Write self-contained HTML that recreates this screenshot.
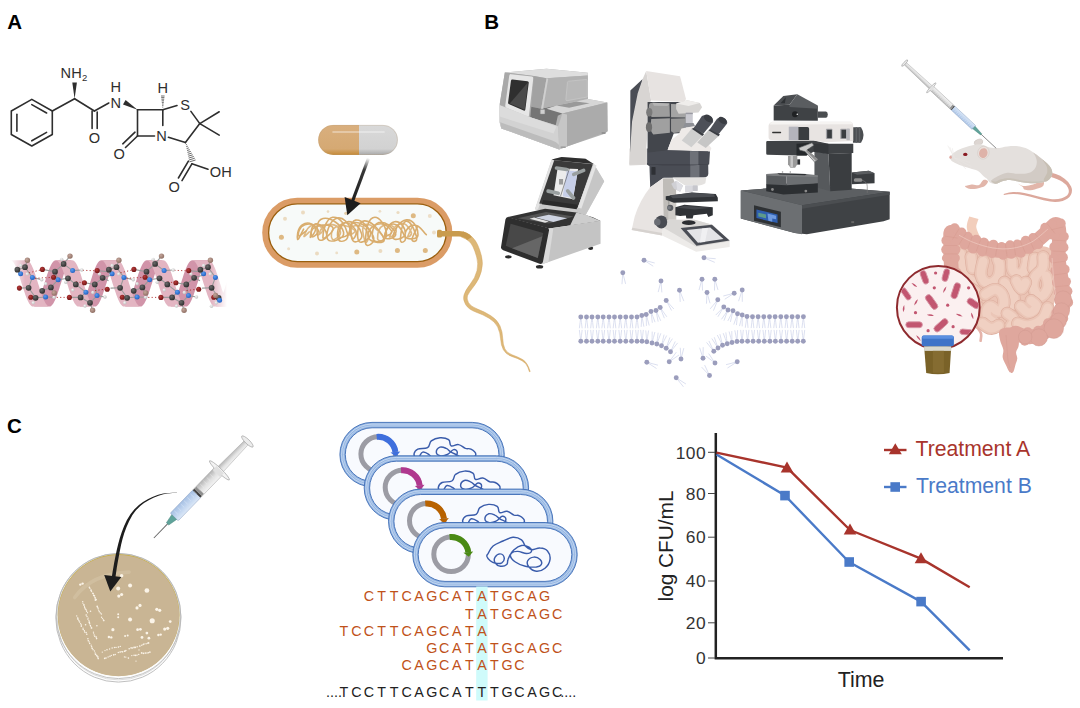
<!DOCTYPE html>
<html><head><meta charset="utf-8"><title>Figure</title>
<style>
html,body{margin:0;padding:0;background:#fff;}
body{width:1080px;height:708px;overflow:hidden;font-family:"Liberation Sans",sans-serif;}
svg{display:block;position:absolute;left:0;top:0;}
text{font-family:"Liberation Sans",sans-serif;}
</style></head><body>
<svg width="1080" height="708" viewBox="0 0 1080 708">
<rect width="1080" height="708" fill="#ffffff"/>
<!-- panel labels -->
<g font-weight="bold" font-size="20.5" fill="#000">
<text x="7.3" y="28.8">A</text>
<text x="484.3" y="29.2">B</text>
<text x="7" y="433.0">C</text>
</g>
<!-- ampicillin -->
<g stroke="#2e2e2e" stroke-width="1.6" fill="none" stroke-linecap="round" stroke-linejoin="round">
<polygon points="31.8,99.4 52.3,111 52.3,134.5 31.8,146 11.3,134.5 11.3,111"/>
<line x1="31.8" y1="104.6" x2="46.6" y2="113"/>
<line x1="16.9" y1="114.2" x2="16.9" y2="131.3"/>
<line x1="31.8" y1="140.8" x2="46.6" y2="132.4"/>
<line x1="52.3" y1="111" x2="74.6" y2="98.7"/>
<line x1="74.6" y1="98.7" x2="94.4" y2="111"/>
<line x1="92.1" y1="111" x2="92.1" y2="128.4"/>
<line x1="97.2" y1="112" x2="97.2" y2="128.4"/>
<line x1="94.4" y1="111" x2="108.8" y2="103"/>
<line x1="137.5" y1="109.8" x2="162.8" y2="109.8"/>
<line x1="137.5" y1="109.8" x2="137.5" y2="136"/>
<line x1="137.5" y1="136" x2="154.5" y2="136"/>
<line x1="162.8" y1="109.8" x2="162.8" y2="125.5"/>
<line x1="137.5" y1="136" x2="125.5" y2="147.5"/>
<line x1="135" y1="132.2" x2="122.8" y2="143.8"/>
<line x1="162.8" y1="109.8" x2="177" y2="105.6"/>
<line x1="190.9" y1="111.4" x2="199.8" y2="123.6"/>
<line x1="199.8" y1="123.6" x2="219.2" y2="111.8"/>
<line x1="199.8" y1="123.6" x2="219.2" y2="135.1"/>
<line x1="199.8" y1="123.6" x2="185.4" y2="142.6"/>
<line x1="168.4" y1="137.2" x2="185.4" y2="142.6"/>
<line x1="191.9" y1="163.8" x2="208" y2="169.2"/>
<line x1="191.9" y1="163.8" x2="182" y2="180.6"/>
<line x1="188.4" y1="161.2" x2="178.4" y2="178"/>
</g>
<g fill="#2e2e2e" stroke="none">
<polygon points="74.6,98.7 72.3,82.6 76.9,82.6"/>
<polygon points="137.5,109.8 123,104.6 125.6,100"/>
</g>
<g stroke="#2e2e2e" stroke-width="0.7" fill="none">
<path d="M161,96 h3.6 M161.2,97.6 h3.2 M161.4,99.2 h2.8 M161.6,100.8 h2.4 M161.8,102.4 h2 M162,104 h1.6 M162.2,105.6 h1.2 M162.4,107.2 h0.8"/>
<path d="M185.9,144.8 l1,-0.3 M186.2,146.7 l1.6,-0.5 M186.6,148.6 l2.2,-0.7 M187,150.5 l2.8,-0.85 M187.4,152.4 l3.4,-1 M187.8,154.3 l4,-1.2 M188.2,156.2 l4.6,-1.4 M188.6,158.1 l5.2,-1.6 M189,160 l5.8,-1.8 M189.4,161.9 l6.2,-1.9"/>
</g>
<g font-size="14.6" fill="#2e2e2e" text-anchor="middle">
<text x="65.7" y="77.8">N</text><text x="76.5" y="77.8">H</text><text x="84.7" y="80.6" font-size="9.5">2</text>
<text x="94.4" y="142.8">O</text>
<text x="115.8" y="107.6">N</text><text x="115.8" y="92.2">H</text>
<text x="162.8" y="92.8">H</text>
<text x="185" y="110.2">S</text>
<text x="161.5" y="141.2">N</text>
<text x="119.2" y="158.7">O</text>
<text x="174.1" y="192">O</text>
<text x="220.8" y="177.2">OH</text>
</g>
<!-- alpha helix -->
<defs>
<linearGradient id="hxFade" x1="10" x2="227" y1="0" y2="0" gradientUnits="userSpaceOnUse"><stop offset="0" stop-color="#fff" stop-opacity="0"/><stop offset="0.07" stop-color="#fff" stop-opacity="1"/><stop offset="0.93" stop-color="#fff" stop-opacity="1"/><stop offset="1" stop-color="#fff" stop-opacity="0"/></linearGradient>
<mask id="hxMask"><rect x="0" y="240" width="260" height="90" fill="url(#hxFade)"/></mask>
<radialGradient id="gC" cx="0.38" cy="0.35" r="0.7"><stop offset="0" stop-color="#6a6a6a"/><stop offset="1" stop-color="#2b2b2b"/></radialGradient>
<radialGradient id="gN" cx="0.38" cy="0.35" r="0.7"><stop offset="0" stop-color="#5b9cf0"/><stop offset="1" stop-color="#1f5fc0"/></radialGradient>
<radialGradient id="gO" cx="0.38" cy="0.35" r="0.7"><stop offset="0" stop-color="#b53a3a"/><stop offset="1" stop-color="#6e1212"/></radialGradient>
<radialGradient id="gH" cx="0.38" cy="0.35" r="0.7"><stop offset="0" stop-color="#f4f4f4"/><stop offset="1" stop-color="#bdbdbd"/></radialGradient>
<radialGradient id="gR" cx="0.38" cy="0.35" r="0.7"><stop offset="0" stop-color="#c3a59a"/><stop offset="1" stop-color="#8d6d62"/></radialGradient>
</defs>
<g mask="url(#hxMask)">
<polygon points="33.0,306.6 33.9,306.4 34.9,305.8 35.8,304.8 36.8,303.5 37.7,301.8 38.7,299.8 39.6,297.5 40.6,295.0 41.5,292.3 42.5,289.4 43.4,286.4 44.4,283.4 45.3,280.4 46.3,277.4 47.2,274.5 48.2,271.8 49.1,269.3 50.1,267.0 51.0,265.0 52.0,263.3 52.9,262.0 53.9,261.0 54.8,260.4 55.8,260.2 72.2,260.2 71.3,260.4 70.4,261.0 69.4,262.0 68.5,263.3 67.5,265.0 66.6,267.0 65.6,269.3 64.7,271.8 63.7,274.5 62.8,277.4 61.8,280.4 60.9,283.4 59.9,286.4 59.0,289.4 58.0,292.3 57.1,295.0 56.1,297.5 55.2,299.8 54.2,301.8 53.3,303.5 52.3,304.8 51.4,305.8 50.4,306.4 49.5,306.6" fill="#D194A9"/>
<polygon points="78.5,306.6 79.4,306.4 80.4,305.8 81.3,304.8 82.3,303.5 83.2,301.8 84.2,299.8 85.1,297.5 86.1,295.0 87.0,292.3 88.0,289.4 88.9,286.4 89.9,283.4 90.8,280.4 91.8,277.4 92.7,274.5 93.7,271.8 94.6,269.3 95.6,267.0 96.5,265.0 97.5,263.3 98.4,262.0 99.4,261.0 100.3,260.4 101.2,260.2 117.8,260.2 116.8,260.4 115.9,261.0 114.9,262.0 114.0,263.3 113.0,265.0 112.1,267.0 111.1,269.3 110.2,271.8 109.2,274.5 108.3,277.4 107.3,280.4 106.4,283.4 105.4,286.4 104.5,289.4 103.5,292.3 102.6,295.0 101.6,297.5 100.7,299.8 99.7,301.8 98.8,303.5 97.8,304.8 96.9,305.8 95.9,306.4 95.0,306.6" fill="#D194A9"/>
<polygon points="124.0,306.6 124.9,306.4 125.9,305.8 126.8,304.8 127.8,303.5 128.7,301.8 129.7,299.8 130.6,297.5 131.6,295.0 132.5,292.3 133.5,289.4 134.4,286.4 135.4,283.4 136.3,280.4 137.3,277.4 138.2,274.5 139.2,271.8 140.1,269.3 141.1,267.0 142.0,265.0 143.0,263.3 143.9,262.0 144.9,261.0 145.8,260.4 146.8,260.2 163.2,260.2 162.3,260.4 161.4,261.0 160.4,262.0 159.5,263.3 158.5,265.0 157.6,267.0 156.6,269.3 155.7,271.8 154.7,274.5 153.8,277.4 152.8,280.4 151.9,283.4 150.9,286.4 150.0,289.4 149.0,292.3 148.1,295.0 147.1,297.5 146.2,299.8 145.2,301.8 144.3,303.5 143.3,304.8 142.4,305.8 141.4,306.4 140.5,306.6" fill="#D194A9"/>
<polygon points="169.5,306.6 170.4,306.4 171.4,305.8 172.3,304.8 173.3,303.5 174.2,301.8 175.2,299.8 176.1,297.5 177.1,295.0 178.0,292.3 179.0,289.4 179.9,286.4 180.9,283.4 181.8,280.4 182.8,277.4 183.7,274.5 184.7,271.8 185.6,269.3 186.6,267.0 187.5,265.0 188.5,263.3 189.4,262.0 190.4,261.0 191.3,260.4 192.2,260.2 208.8,260.2 207.8,260.4 206.9,261.0 205.9,262.0 205.0,263.3 204.0,265.0 203.1,267.0 202.1,269.3 201.2,271.8 200.2,274.5 199.3,277.4 198.3,280.4 197.4,283.4 196.4,286.4 195.5,289.4 194.5,292.3 193.6,295.0 192.6,297.5 191.7,299.8 190.7,301.8 189.8,303.5 188.8,304.8 187.9,305.8 186.9,306.4 186.0,306.6" fill="#D194A9"/>
<polygon points="215.0,306.6 215.9,306.4 216.9,305.8 217.8,304.8 218.8,303.5 219.7,301.8 220.7,299.8 221.6,297.5 222.6,295.0 223.5,292.3 224.5,289.4 225.4,286.4 226.4,283.4 227.3,280.4 228.3,277.4 229.2,274.5 230.2,271.8 231.1,269.3 232.1,267.0 233.0,265.0 234.0,263.3 234.9,262.0 235.9,261.0 236.8,260.4 237.8,260.2 254.2,260.2 253.3,260.4 252.4,261.0 251.4,262.0 250.5,263.3 249.5,265.0 248.6,267.0 247.6,269.3 246.7,271.8 245.7,274.5 244.8,277.4 243.8,280.4 242.9,283.4 241.9,286.4 241.0,289.4 240.0,292.3 239.1,295.0 238.1,297.5 237.2,299.8 236.2,301.8 235.3,303.5 234.3,304.8 233.4,305.8 232.4,306.4 231.5,306.6" fill="#D194A9"/>
<polygon points="260.5,306.6 261.4,306.4 262.4,305.8 263.3,304.8 264.3,303.5 265.2,301.8 266.2,299.8 267.1,297.5 268.1,295.0 269.0,292.3 270.0,289.4 270.9,286.4 271.9,283.4 272.8,280.4 273.8,277.4 274.7,274.5 275.7,271.8 276.6,269.3 277.6,267.0 278.5,265.0 279.5,263.3 280.4,262.0 281.4,261.0 282.3,260.4 283.2,260.2 299.8,260.2 298.8,260.4 297.9,261.0 296.9,262.0 296.0,263.3 295.0,265.0 294.1,267.0 293.1,269.3 292.2,271.8 291.2,274.5 290.3,277.4 289.3,280.4 288.4,283.4 287.4,286.4 286.5,289.4 285.5,292.3 284.6,295.0 283.6,297.5 282.7,299.8 281.7,301.8 280.8,303.5 279.8,304.8 278.9,305.8 277.9,306.4 277.0,306.6" fill="#D194A9"/>
<polygon points="-35.2,260.2 -34.3,260.4 -33.4,261.0 -32.4,262.0 -31.5,263.3 -30.5,265.0 -29.6,267.0 -28.6,269.3 -27.7,271.8 -26.7,274.5 -25.8,277.4 -24.8,280.4 -23.9,283.4 -22.9,286.4 -22.0,289.4 -21.0,292.3 -20.1,295.0 -19.1,297.5 -18.2,299.8 -17.2,301.8 -16.3,303.5 -15.3,304.8 -14.4,305.8 -13.4,306.4 -12.5,306.6 4.0,306.6 3.1,306.4 2.1,305.8 1.2,304.8 0.2,303.5 -0.7,301.8 -1.7,299.8 -2.6,297.5 -3.6,295.0 -4.5,292.3 -5.5,289.4 -6.4,286.4 -7.4,283.4 -8.3,280.4 -9.3,277.4 -10.2,274.5 -11.2,271.8 -12.1,269.3 -13.1,267.0 -14.0,265.0 -15.0,263.3 -15.9,262.0 -16.9,261.0 -17.8,260.4 -18.8,260.2" fill="#E3B5C2"/>
<polygon points="10.2,260.2 11.2,260.4 12.1,261.0 13.1,262.0 14.0,263.3 15.0,265.0 15.9,267.0 16.9,269.3 17.8,271.8 18.8,274.5 19.7,277.4 20.7,280.4 21.6,283.4 22.6,286.4 23.5,289.4 24.5,292.3 25.4,295.0 26.4,297.5 27.3,299.8 28.3,301.8 29.2,303.5 30.2,304.8 31.1,305.8 32.1,306.4 33.0,306.6 49.5,306.6 48.6,306.4 47.6,305.8 46.7,304.8 45.7,303.5 44.8,301.8 43.8,299.8 42.9,297.5 41.9,295.0 41.0,292.3 40.0,289.4 39.1,286.4 38.1,283.4 37.2,280.4 36.2,277.4 35.3,274.5 34.3,271.8 33.4,269.3 32.4,267.0 31.5,265.0 30.5,263.3 29.6,262.0 28.6,261.0 27.7,260.4 26.8,260.2" fill="#E3B5C2"/>
<polygon points="55.8,260.2 56.7,260.4 57.6,261.0 58.6,262.0 59.5,263.3 60.5,265.0 61.4,267.0 62.4,269.3 63.3,271.8 64.3,274.5 65.2,277.4 66.2,280.4 67.1,283.4 68.1,286.4 69.0,289.4 70.0,292.3 70.9,295.0 71.9,297.5 72.8,299.8 73.8,301.8 74.7,303.5 75.7,304.8 76.6,305.8 77.6,306.4 78.5,306.6 95.0,306.6 94.1,306.4 93.1,305.8 92.2,304.8 91.2,303.5 90.3,301.8 89.3,299.8 88.4,297.5 87.4,295.0 86.5,292.3 85.5,289.4 84.6,286.4 83.6,283.4 82.7,280.4 81.7,277.4 80.8,274.5 79.8,271.8 78.9,269.3 77.9,267.0 77.0,265.0 76.0,263.3 75.1,262.0 74.1,261.0 73.2,260.4 72.2,260.2" fill="#E3B5C2"/>
<polygon points="101.2,260.2 102.2,260.4 103.1,261.0 104.1,262.0 105.0,263.3 106.0,265.0 106.9,267.0 107.9,269.3 108.8,271.8 109.8,274.5 110.7,277.4 111.7,280.4 112.6,283.4 113.6,286.4 114.5,289.4 115.5,292.3 116.4,295.0 117.4,297.5 118.3,299.8 119.3,301.8 120.2,303.5 121.2,304.8 122.1,305.8 123.1,306.4 124.0,306.6 140.5,306.6 139.6,306.4 138.6,305.8 137.7,304.8 136.7,303.5 135.8,301.8 134.8,299.8 133.9,297.5 132.9,295.0 132.0,292.3 131.0,289.4 130.1,286.4 129.1,283.4 128.2,280.4 127.2,277.4 126.3,274.5 125.3,271.8 124.4,269.3 123.4,267.0 122.5,265.0 121.5,263.3 120.6,262.0 119.6,261.0 118.7,260.4 117.8,260.2" fill="#E3B5C2"/>
<polygon points="146.8,260.2 147.7,260.4 148.6,261.0 149.6,262.0 150.5,263.3 151.5,265.0 152.4,267.0 153.4,269.3 154.3,271.8 155.3,274.5 156.2,277.4 157.2,280.4 158.1,283.4 159.1,286.4 160.0,289.4 161.0,292.3 161.9,295.0 162.9,297.5 163.8,299.8 164.8,301.8 165.7,303.5 166.7,304.8 167.6,305.8 168.6,306.4 169.5,306.6 186.0,306.6 185.1,306.4 184.1,305.8 183.2,304.8 182.2,303.5 181.3,301.8 180.3,299.8 179.4,297.5 178.4,295.0 177.5,292.3 176.5,289.4 175.6,286.4 174.6,283.4 173.7,280.4 172.7,277.4 171.8,274.5 170.8,271.8 169.9,269.3 168.9,267.0 168.0,265.0 167.0,263.3 166.1,262.0 165.1,261.0 164.2,260.4 163.2,260.2" fill="#E3B5C2"/>
<polygon points="192.2,260.2 193.2,260.4 194.1,261.0 195.1,262.0 196.0,263.3 197.0,265.0 197.9,267.0 198.9,269.3 199.8,271.8 200.8,274.5 201.7,277.4 202.7,280.4 203.6,283.4 204.6,286.4 205.5,289.4 206.5,292.3 207.4,295.0 208.4,297.5 209.3,299.8 210.3,301.8 211.2,303.5 212.2,304.8 213.1,305.8 214.1,306.4 215.0,306.6 231.5,306.6 230.6,306.4 229.6,305.8 228.7,304.8 227.7,303.5 226.8,301.8 225.8,299.8 224.9,297.5 223.9,295.0 223.0,292.3 222.0,289.4 221.1,286.4 220.1,283.4 219.2,280.4 218.2,277.4 217.3,274.5 216.3,271.8 215.4,269.3 214.4,267.0 213.5,265.0 212.5,263.3 211.6,262.0 210.6,261.0 209.7,260.4 208.8,260.2" fill="#E3B5C2"/>
<polygon points="237.8,260.2 238.7,260.4 239.6,261.0 240.6,262.0 241.5,263.3 242.5,265.0 243.4,267.0 244.4,269.3 245.3,271.8 246.3,274.5 247.2,277.4 248.2,280.4 249.1,283.4 250.1,286.4 251.0,289.4 252.0,292.3 252.9,295.0 253.9,297.5 254.8,299.8 255.8,301.8 256.7,303.5 257.7,304.8 258.6,305.8 259.6,306.4 260.5,306.6 277.0,306.6 276.1,306.4 275.1,305.8 274.2,304.8 273.2,303.5 272.3,301.8 271.3,299.8 270.4,297.5 269.4,295.0 268.5,292.3 267.5,289.4 266.6,286.4 265.6,283.4 264.7,280.4 263.7,277.4 262.8,274.5 261.8,271.8 260.9,269.3 259.9,267.0 259.0,265.0 258.0,263.3 257.1,262.0 256.1,261.0 255.2,260.4 254.2,260.2" fill="#E3B5C2"/>
<polygon points="283.2,260.2 284.2,260.4 285.1,261.0 286.1,262.0 287.0,263.3 288.0,265.0 288.9,267.0 289.9,269.3 290.8,271.8 291.8,274.5 292.7,277.4 293.7,280.4 294.6,283.4 295.6,286.4 296.5,289.4 297.5,292.3 298.4,295.0 299.4,297.5 300.3,299.8 301.3,301.8 302.2,303.5 303.2,304.8 304.1,305.8 305.1,306.4 306.0,306.6 322.5,306.6 321.6,306.4 320.6,305.8 319.7,304.8 318.7,303.5 317.8,301.8 316.8,299.8 315.9,297.5 314.9,295.0 314.0,292.3 313.0,289.4 312.1,286.4 311.1,283.4 310.2,280.4 309.2,277.4 308.3,274.5 307.3,271.8 306.4,269.3 305.4,267.0 304.5,265.0 303.5,263.3 302.6,262.0 301.6,261.0 300.7,260.4 299.8,260.2" fill="#E3B5C2"/>
</g>
<g stroke="#9a9a9a" stroke-width="1.1" stroke-linecap="round"><line x1="17.4" y1="269.7" x2="25.0" y2="267.2"/><line x1="25.0" y1="267.2" x2="27.4" y2="260.3"/><line x1="25.0" y1="267.2" x2="32.4" y2="277.4"/><line x1="32.4" y1="277.4" x2="28.6" y2="287.8"/><line x1="28.6" y1="287.8" x2="19.4" y2="288.1"/><line x1="28.6" y1="287.8" x2="35.6" y2="297.8"/><line x1="35.6" y1="297.8" x2="30.8" y2="297.2"/><line x1="35.6" y1="297.8" x2="45.6" y2="297.0"/><line x1="45.6" y1="297.0" x2="42.2" y2="290.8"/><line x1="42.2" y1="290.8" x2="50.9" y2="287.4"/><line x1="50.9" y1="287.4" x2="54.2" y2="293.0"/><line x1="50.9" y1="287.4" x2="58.1" y2="279.7"/><line x1="58.1" y1="279.7" x2="55.0" y2="271.7"/><line x1="55.0" y1="271.7" x2="42.4" y2="269.4"/><line x1="55.0" y1="271.7" x2="63.6" y2="263.9"/><line x1="63.6" y1="263.9" x2="70.0" y2="256.1"/><line x1="63.6" y1="263.9" x2="72.6" y2="270.6"/><line x1="72.6" y1="270.6" x2="81.7" y2="270.0"/><line x1="58.1" y1="279.7" x2="68.0" y2="278.3"/><line x1="68.0" y1="278.3" x2="75.8" y2="284.4"/><line x1="75.8" y1="284.4" x2="85.9" y2="292.2"/><line x1="85.9" y1="292.2" x2="80.6" y2="297.4"/><line x1="80.6" y1="297.4" x2="69.4" y2="297.4"/><line x1="80.6" y1="297.4" x2="90.0" y2="302.8"/><line x1="90.0" y1="302.8" x2="92.6" y2="310.3"/><line x1="90.0" y1="302.8" x2="97.0" y2="295.6"/><line x1="97.0" y1="295.6" x2="105.0" y2="297.0"/><line x1="97.0" y1="295.6" x2="94.8" y2="284.4"/><line x1="94.8" y1="284.4" x2="84.4" y2="282.8"/><line x1="94.8" y1="284.4" x2="102.6" y2="277.8"/><line x1="102.6" y1="277.8" x2="108.1" y2="280.6"/><line x1="102.6" y1="277.8" x2="111.1" y2="275.2"/><line x1="111.1" y1="275.2" x2="108.3" y2="271.7"/><line x1="108.3" y1="271.7" x2="97.2" y2="270.6"/><line x1="32.4" y1="277.4" x2="41.7" y2="279.7"/><line x1="45.6" y1="297.0" x2="54.1" y2="297.2"/><line x1="108.9" y1="269.7" x2="116.5" y2="267.2"/><line x1="116.5" y1="267.2" x2="118.9" y2="260.3"/><line x1="116.5" y1="267.2" x2="123.9" y2="277.4"/><line x1="123.9" y1="277.4" x2="120.1" y2="287.8"/><line x1="120.1" y1="287.8" x2="110.9" y2="288.1"/><line x1="120.1" y1="287.8" x2="127.1" y2="297.8"/><line x1="127.1" y1="297.8" x2="122.3" y2="297.2"/><line x1="127.1" y1="297.8" x2="137.1" y2="297.0"/><line x1="137.1" y1="297.0" x2="133.7" y2="290.8"/><line x1="133.7" y1="290.8" x2="142.4" y2="287.4"/><line x1="142.4" y1="287.4" x2="145.7" y2="293.0"/><line x1="142.4" y1="287.4" x2="149.6" y2="279.7"/><line x1="149.6" y1="279.7" x2="146.5" y2="271.7"/><line x1="146.5" y1="271.7" x2="133.9" y2="269.4"/><line x1="146.5" y1="271.7" x2="155.1" y2="263.9"/><line x1="155.1" y1="263.9" x2="161.5" y2="256.1"/><line x1="155.1" y1="263.9" x2="164.1" y2="270.6"/><line x1="164.1" y1="270.6" x2="173.2" y2="270.0"/><line x1="149.6" y1="279.7" x2="159.5" y2="278.3"/><line x1="159.5" y1="278.3" x2="167.3" y2="284.4"/><line x1="167.3" y1="284.4" x2="177.4" y2="292.2"/><line x1="177.4" y1="292.2" x2="172.1" y2="297.4"/><line x1="172.1" y1="297.4" x2="160.9" y2="297.4"/><line x1="172.1" y1="297.4" x2="181.5" y2="302.8"/><line x1="181.5" y1="302.8" x2="184.1" y2="310.3"/><line x1="181.5" y1="302.8" x2="188.5" y2="295.6"/><line x1="188.5" y1="295.6" x2="196.5" y2="297.0"/><line x1="188.5" y1="295.6" x2="186.3" y2="284.4"/><line x1="186.3" y1="284.4" x2="175.9" y2="282.8"/><line x1="186.3" y1="284.4" x2="194.1" y2="277.8"/><line x1="194.1" y1="277.8" x2="199.6" y2="280.6"/><line x1="194.1" y1="277.8" x2="202.6" y2="275.2"/><line x1="202.6" y1="275.2" x2="199.8" y2="271.7"/><line x1="199.8" y1="271.7" x2="188.7" y2="270.6"/><line x1="123.9" y1="277.4" x2="133.2" y2="279.7"/><line x1="137.1" y1="297.0" x2="145.6" y2="297.2"/><line x1="200.4" y1="269.7" x2="208.0" y2="267.2"/><line x1="208.0" y1="267.2" x2="210.4" y2="260.3"/><line x1="208.0" y1="267.2" x2="215.4" y2="277.4"/><line x1="215.4" y1="277.4" x2="211.6" y2="287.8"/><line x1="211.6" y1="287.8" x2="202.4" y2="288.1"/><line x1="211.6" y1="287.8" x2="218.6" y2="297.8"/><line x1="218.6" y1="297.8" x2="213.8" y2="297.2"/></g>
<g stroke="#B03030" stroke-width="0.9" stroke-dasharray="1.2 2.2"><line x1="28.9" y1="272.8" x2="40.6" y2="270.0"/><line x1="35.0" y1="278.3" x2="51.7" y2="277.4"/><line x1="56.7" y1="297.4" x2="67.2" y2="297.4"/><line x1="82.8" y1="270.3" x2="95.6" y2="270.8"/><line x1="76.1" y1="281.7" x2="82.8" y2="282.8"/><line x1="95.0" y1="290.6" x2="105.6" y2="289.2"/><line x1="120.4" y1="272.8" x2="132.1" y2="270.0"/><line x1="126.5" y1="278.3" x2="143.2" y2="277.4"/><line x1="148.2" y1="297.4" x2="158.7" y2="297.4"/><line x1="174.3" y1="270.3" x2="187.1" y2="270.8"/><line x1="167.6" y1="281.7" x2="174.3" y2="282.8"/><line x1="186.5" y1="290.6" x2="197.1" y2="289.2"/></g>
<g><circle cx="20.6" cy="265.6" r="1.75" fill="url(#gH)"/><circle cx="27.2" cy="274.1" r="1.75" fill="url(#gH)"/><circle cx="41.7" cy="279.7" r="1.75" fill="url(#gH)"/><circle cx="45.6" cy="283.7" r="1.75" fill="url(#gH)"/><circle cx="33.3" cy="302.8" r="1.75" fill="url(#gH)"/><circle cx="54.1" cy="297.2" r="1.75" fill="url(#gH)"/><circle cx="61.7" cy="259.4" r="1.75" fill="url(#gH)"/><circle cx="65.8" cy="282.2" r="1.75" fill="url(#gH)"/><circle cx="81.7" cy="270.0" r="1.75" fill="url(#gH)"/><circle cx="72.8" cy="290.0" r="1.75" fill="url(#gH)"/><circle cx="85.0" cy="305.9" r="1.75" fill="url(#gH)"/><circle cx="92.8" cy="292.4" r="1.75" fill="url(#gH)"/><circle cx="105.0" cy="297.0" r="1.75" fill="url(#gH)"/><circle cx="99.4" cy="273.9" r="1.75" fill="url(#gH)"/><circle cx="27.4" cy="260.3" r="2.70" fill="url(#gR)"/><circle cx="54.2" cy="293.0" r="2.70" fill="url(#gR)"/><circle cx="70.0" cy="256.1" r="2.70" fill="url(#gR)"/><circle cx="92.6" cy="310.3" r="2.70" fill="url(#gR)"/><circle cx="19.4" cy="288.1" r="2.55" fill="url(#gO)"/><circle cx="30.8" cy="297.2" r="2.55" fill="url(#gO)"/><circle cx="42.4" cy="269.4" r="2.55" fill="url(#gO)"/><circle cx="53.6" cy="277.2" r="2.55" fill="url(#gO)"/><circle cx="69.4" cy="297.4" r="2.55" fill="url(#gO)"/><circle cx="84.4" cy="282.8" r="2.55" fill="url(#gO)"/><circle cx="97.2" cy="270.6" r="2.55" fill="url(#gO)"/><circle cx="107.2" cy="289.2" r="2.55" fill="url(#gO)"/><circle cx="20.6" cy="273.7" r="2.50" fill="url(#gN)"/><circle cx="32.4" cy="277.4" r="2.50" fill="url(#gN)"/><circle cx="45.6" cy="297.0" r="2.50" fill="url(#gN)"/><circle cx="58.1" cy="279.7" r="2.50" fill="url(#gN)"/><circle cx="72.6" cy="270.6" r="2.50" fill="url(#gN)"/><circle cx="85.9" cy="292.2" r="2.50" fill="url(#gN)"/><circle cx="97.0" cy="295.6" r="2.50" fill="url(#gN)"/><circle cx="17.4" cy="269.7" r="2.85" fill="url(#gC)"/><circle cx="25.0" cy="267.2" r="2.85" fill="url(#gC)"/><circle cx="28.6" cy="287.8" r="2.85" fill="url(#gC)"/><circle cx="35.6" cy="297.8" r="2.85" fill="url(#gC)"/><circle cx="42.2" cy="290.8" r="2.85" fill="url(#gC)"/><circle cx="50.9" cy="287.4" r="2.85" fill="url(#gC)"/><circle cx="55.0" cy="271.7" r="2.85" fill="url(#gC)"/><circle cx="63.6" cy="263.9" r="2.85" fill="url(#gC)"/><circle cx="68.0" cy="278.3" r="2.85" fill="url(#gC)"/><circle cx="75.8" cy="284.4" r="2.85" fill="url(#gC)"/><circle cx="80.6" cy="297.4" r="2.85" fill="url(#gC)"/><circle cx="90.0" cy="302.8" r="2.85" fill="url(#gC)"/><circle cx="94.8" cy="284.4" r="2.85" fill="url(#gC)"/><circle cx="102.6" cy="277.8" r="2.85" fill="url(#gC)"/>
<circle cx="112.1" cy="265.6" r="1.75" fill="url(#gH)"/><circle cx="118.7" cy="274.1" r="1.75" fill="url(#gH)"/><circle cx="133.2" cy="279.7" r="1.75" fill="url(#gH)"/><circle cx="137.1" cy="283.7" r="1.75" fill="url(#gH)"/><circle cx="124.8" cy="302.8" r="1.75" fill="url(#gH)"/><circle cx="145.6" cy="297.2" r="1.75" fill="url(#gH)"/><circle cx="153.2" cy="259.4" r="1.75" fill="url(#gH)"/><circle cx="157.3" cy="282.2" r="1.75" fill="url(#gH)"/><circle cx="173.2" cy="270.0" r="1.75" fill="url(#gH)"/><circle cx="164.3" cy="290.0" r="1.75" fill="url(#gH)"/><circle cx="176.5" cy="305.9" r="1.75" fill="url(#gH)"/><circle cx="184.3" cy="292.4" r="1.75" fill="url(#gH)"/><circle cx="196.5" cy="297.0" r="1.75" fill="url(#gH)"/><circle cx="190.9" cy="273.9" r="1.75" fill="url(#gH)"/><circle cx="118.9" cy="260.3" r="2.70" fill="url(#gR)"/><circle cx="145.7" cy="293.0" r="2.70" fill="url(#gR)"/><circle cx="161.5" cy="256.1" r="2.70" fill="url(#gR)"/><circle cx="184.1" cy="310.3" r="2.70" fill="url(#gR)"/><circle cx="122.3" cy="297.2" r="2.55" fill="url(#gO)"/><circle cx="133.9" cy="269.4" r="2.55" fill="url(#gO)"/><circle cx="145.1" cy="277.2" r="2.55" fill="url(#gO)"/><circle cx="160.9" cy="297.4" r="2.55" fill="url(#gO)"/><circle cx="175.9" cy="282.8" r="2.55" fill="url(#gO)"/><circle cx="188.7" cy="270.6" r="2.55" fill="url(#gO)"/><circle cx="198.7" cy="289.2" r="2.55" fill="url(#gO)"/><circle cx="112.1" cy="273.7" r="2.50" fill="url(#gN)"/><circle cx="123.9" cy="277.4" r="2.50" fill="url(#gN)"/><circle cx="137.1" cy="297.0" r="2.50" fill="url(#gN)"/><circle cx="149.6" cy="279.7" r="2.50" fill="url(#gN)"/><circle cx="164.1" cy="270.6" r="2.50" fill="url(#gN)"/><circle cx="177.4" cy="292.2" r="2.50" fill="url(#gN)"/><circle cx="188.5" cy="295.6" r="2.50" fill="url(#gN)"/><circle cx="108.9" cy="269.7" r="2.85" fill="url(#gC)"/><circle cx="116.5" cy="267.2" r="2.85" fill="url(#gC)"/><circle cx="120.1" cy="287.8" r="2.85" fill="url(#gC)"/><circle cx="127.1" cy="297.8" r="2.85" fill="url(#gC)"/><circle cx="133.7" cy="290.8" r="2.85" fill="url(#gC)"/><circle cx="142.4" cy="287.4" r="2.85" fill="url(#gC)"/><circle cx="146.5" cy="271.7" r="2.85" fill="url(#gC)"/><circle cx="155.1" cy="263.9" r="2.85" fill="url(#gC)"/><circle cx="159.5" cy="278.3" r="2.85" fill="url(#gC)"/><circle cx="167.3" cy="284.4" r="2.85" fill="url(#gC)"/><circle cx="172.1" cy="297.4" r="2.85" fill="url(#gC)"/><circle cx="181.5" cy="302.8" r="2.85" fill="url(#gC)"/><circle cx="186.3" cy="284.4" r="2.85" fill="url(#gC)"/><circle cx="194.1" cy="277.8" r="2.85" fill="url(#gC)"/>
<circle cx="203.6" cy="265.6" r="1.75" fill="url(#gH)"/><circle cx="210.2" cy="274.1" r="1.75" fill="url(#gH)"/><circle cx="216.3" cy="302.8" r="1.75" fill="url(#gH)"/><circle cx="210.4" cy="260.3" r="2.70" fill="url(#gR)"/><circle cx="213.8" cy="297.2" r="2.55" fill="url(#gO)"/><circle cx="203.6" cy="273.7" r="2.50" fill="url(#gN)"/><circle cx="215.4" cy="277.4" r="2.50" fill="url(#gN)"/><circle cx="200.4" cy="269.7" r="2.85" fill="url(#gC)"/><circle cx="208.0" cy="267.2" r="2.85" fill="url(#gC)"/><circle cx="211.6" cy="287.8" r="2.85" fill="url(#gC)"/><circle cx="218.6" cy="297.8" r="2.85" fill="url(#gC)"/>
<circle cx="211.5" cy="306.3" r="1.75" fill="url(#gH)"/><circle cx="215.6" cy="295.4" r="2.6" fill="url(#gR)"/><circle cx="219.6" cy="300.3" r="2.5" fill="url(#gN)"/></g>
<!-- capsule, arrow, bacterium -->
<defs>
<linearGradient id="capL" x1="0" y1="0" x2="0" y2="1"><stop offset="0" stop-color="#D9AF7E"/><stop offset="0.8" stop-color="#D5A973"/><stop offset="1" stop-color="#C58A36"/></linearGradient>
<linearGradient id="capR" x1="0" y1="0" x2="0" y2="1"><stop offset="0" stop-color="#D9D9D9"/><stop offset="0.8" stop-color="#D2D2D2"/><stop offset="1" stop-color="#A8A8A8"/></linearGradient>
<clipPath id="capClipL"><rect x="310" y="120" width="48.9" height="40"/></clipPath>
<clipPath id="capClipR"><rect x="358.9" y="120" width="48" height="40"/></clipPath>
<linearGradient id="arrG" x1="368.6" y1="158" x2="351" y2="205" gradientUnits="userSpaceOnUse"><stop offset="0" stop-color="#222" stop-opacity="0"/><stop offset="0.25" stop-color="#222" stop-opacity="0.9"/><stop offset="1" stop-color="#1d1d1d"/></linearGradient>
</defs>
<rect x="318.2" y="124.9" width="79.7" height="30" rx="15" fill="url(#capL)" clip-path="url(#capClipL)"/>
<rect x="318.2" y="124.9" width="79.7" height="30" rx="15" fill="url(#capR)" clip-path="url(#capClipR)"/>
<rect x="318.6" y="125.3" width="78.9" height="29.2" rx="14.6" fill="none" stroke="#b9a080" stroke-opacity="0.35" stroke-width="0.8"/>
<line x1="333" y1="132" x2="384" y2="132" stroke="#fff" stroke-opacity="0.45" stroke-width="1.6" stroke-linecap="round"/>
<rect x="262.2" y="197.7" width="190.2" height="70.1" rx="35" fill="#DB9C66"/>
<rect x="268.6" y="203.8" width="177.6" height="57.8" rx="28.9" fill="#F7FAF9" stroke="#9A5F0E" stroke-width="1.3"/>
<circle cx="281.4" cy="237.3" r="2.5" fill="#D9AD6E" fill-opacity="0.85"/><circle cx="285.0" cy="218.8" r="2.0" fill="#D9AD6E" fill-opacity="0.40"/><circle cx="303.0" cy="212.5" r="2.0" fill="#D9AD6E" fill-opacity="0.40"/><circle cx="288.6" cy="248.8" r="1.5" fill="#D9AD6E" fill-opacity="0.35"/><circle cx="317.0" cy="253.4" r="2.0" fill="#D9AD6E" fill-opacity="0.40"/><circle cx="328.0" cy="211.6" r="1.3" fill="#D9AD6E" fill-opacity="0.40"/><circle cx="336.7" cy="252.9" r="1.4" fill="#D9AD6E" fill-opacity="0.35"/><circle cx="345.8" cy="213.3" r="1.6" fill="#D9AD6E" fill-opacity="0.60"/><circle cx="356.8" cy="251.9" r="2.5" fill="#D9AD6E" fill-opacity="0.85"/><circle cx="379.9" cy="211.3" r="1.4" fill="#D9AD6E" fill-opacity="0.35"/><circle cx="380.4" cy="251.0" r="2.0" fill="#D9AD6E" fill-opacity="0.40"/><circle cx="398.0" cy="212.5" r="1.6" fill="#D9AD6E" fill-opacity="0.40"/><circle cx="397.4" cy="250.5" r="2.5" fill="#D9AD6E" fill-opacity="0.85"/><circle cx="413.3" cy="215.7" r="2.5" fill="#D9AD6E" fill-opacity="0.85"/><circle cx="429.8" cy="215.9" r="2.0" fill="#D9AD6E" fill-opacity="0.35"/><circle cx="425.3" cy="250.5" r="2.5" fill="#D9AD6E" fill-opacity="0.85"/><circle cx="434.0" cy="232.5" r="2.0" fill="#D9AD6E" fill-opacity="0.35"/>
<g fill="none" stroke="#D9AD6E" stroke-width="1.6" stroke-linecap="round" stroke-linejoin="round">
<path d="M303.6,229.2 C301.8,232.4 298.1,240.8 297.6,239.4 C297.2,238.0 296.8,228.6 302.2,224.9 C307.6,221.2 312.3,223.6 314.9,227.5 C317.4,231.3 310.0,238.4 310.3,237.2 C310.6,236.1 310.7,224.8 315.8,223.9 C320.9,223.0 326.0,229.8 326.7,234.3 C327.4,238.7 319.2,243.0 318.1,238.1 C316.9,233.1 315.0,220.3 323.0,218.5 C330.9,216.7 342.1,225.7 343.6,232.2 C345.0,238.8 330.0,243.7 327.7,239.4 C325.3,235.1 328.9,221.5 336.0,218.5 C343.1,215.6 349.5,224.3 350.4,230.0 C351.2,235.6 339.7,239.2 338.8,236.6 C338.0,234.1 340.5,222.5 347.6,221.7 C354.8,220.9 360.2,228.3 361.7,234.1 C363.3,239.8 354.5,244.5 352.6,240.2 C350.7,235.8 349.2,221.4 355.6,220.1 C362.1,218.9 370.1,229.0 373.2,236.1 C376.3,243.3 365.6,248.8 365.5,243.0 C365.4,237.3 366.2,220.5 372.8,217.7 C379.4,214.9 386.2,227.2 386.5,234.1 C386.7,241.1 376.0,243.6 373.6,240.0 C371.2,236.4 371.9,224.7 378.8,222.6 C385.6,220.5 393.6,228.7 395.6,233.3 C397.5,237.8 385.2,240.8 384.9,237.1 C384.6,233.5 388.1,222.8 394.5,221.7 C400.9,220.6 405.8,228.9 405.3,233.7 C404.8,238.6 392.6,241.6 392.9,237.2 C393.3,232.9 398.6,220.6 406.4,219.9 C414.3,219.2 418.3,229.7 418.0,234.9 C417.7,240.1 406.8,239.6 405.4,236.6 C404.1,233.5 407.3,225.7 413.8,225.1 C420.3,224.5 422.4,231.7 426.3,234.7"/>
<path d="M306.3,230.9 C303.8,232.4 298.9,237.6 298.4,235.6 C298.0,233.7 298.9,226.7 304.9,224.8 C311.0,222.8 315.5,225.5 317.8,229.3 C320.1,233.0 313.0,237.5 312.3,236.8 C311.5,236.0 309.1,229.8 315.5,226.9 C321.9,224.0 330.5,224.1 332.8,227.5 C335.1,230.9 323.0,241.0 322.9,237.8 C322.8,234.6 324.9,218.6 332.6,217.3 C340.3,216.0 345.7,226.6 347.6,233.7 C349.5,240.8 340.6,243.0 338.8,240.0 C336.9,237.0 336.6,227.3 341.8,224.0 C346.9,220.7 352.0,224.9 355.2,229.4 C358.4,234.0 352.8,240.7 352.0,238.7 C351.3,236.7 347.1,225.0 352.9,223.0 C358.6,221.0 368.5,226.6 370.4,232.3 C372.2,238.0 360.6,244.8 358.8,241.2 C356.9,237.7 356.6,221.5 364.4,220.9 C372.3,220.3 382.7,234.1 384.0,239.4 C385.3,244.7 370.7,242.6 368.5,237.9 C366.4,233.2 370.0,226.6 377.2,224.3 C384.3,222.0 389.0,227.1 391.3,230.6 C393.6,234.1 384.0,237.4 384.7,235.4 C385.3,233.3 387.0,223.6 393.3,224.0 C399.6,224.4 402.6,231.7 404.9,236.6 C407.1,241.5 400.1,244.6 400.4,239.8 C400.8,235.0 401.1,222.2 406.1,221.2 C411.1,220.2 414.7,231.0 416.5,236.6 C418.4,242.3 411.7,242.5 412.0,239.3 C412.4,236.1 415.9,230.4 417.6,226.3"/>
<path d="M309.3,231.9 C307.7,233.2 303.2,238.1 304.1,236.0 C305.0,233.9 306.3,227.4 312.1,225.2 C317.8,223.0 320.4,226.0 322.4,229.0 C324.4,231.9 316.9,236.0 318.4,234.6 C319.9,233.3 320.5,225.7 327.3,224.6 C334.2,223.5 338.7,226.6 340.3,231.2 C341.9,235.8 333.6,240.7 332.4,239.3 C331.2,237.9 329.7,229.7 336.5,226.8 C343.3,223.8 350.6,227.3 354.2,229.8 C357.9,232.3 347.7,236.1 348.2,234.8 C348.7,233.4 349.7,226.2 355.8,225.5 C361.8,224.8 364.7,227.3 367.6,232.5 C370.6,237.7 365.9,244.6 365.2,242.1 C364.5,239.6 359.8,226.2 365.5,224.5 C371.2,222.8 379.6,232.2 383.4,236.6 C387.2,241.1 377.7,242.3 377.6,238.8 C377.5,235.3 377.4,228.3 383.2,225.5 C388.9,222.7 394.0,226.4 396.0,229.9 C398.0,233.4 388.5,238.5 389.6,236.6 C390.7,234.7 392.9,225.6 399.5,223.9 C406.1,222.1 408.2,227.0 410.8,231.1 C413.3,235.1 407.4,237.8 407.7,236.7 C408.0,235.6 410.5,230.4 411.8,227.5" stroke-opacity="0.85"/>
</g>
<path d="M461.0,236.8 Q466.8,239.1 469.1,241.3 Q471.4,243.5 473.1,246.9 Q474.8,250.4 476.7,257.0 Q478.6,263.6 477.0,270.7 Q475.3,277.8 470.3,284.1 Q465.3,290.4 464.0,295.0 Q462.6,299.5 465.6,304.5 Q468.6,309.4 475.7,312.0 Q482.9,314.5 489.1,318.2 Q495.2,321.8 497.7,327.1 Q500.2,332.5 500.6,338.8 Q500.9,345.1 503.4,349.8 Q505.9,354.5 511.7,356.4 Q517.6,358.2 522.0,360.7 Q526.3,363.1 527.9,367.4 L529.4,371.7 L530.2,371.5 Q527.3,362.3 522.7,359.6 Q518.2,357.0 512.6,355.0 Q506.9,353.1 504.9,348.9 Q502.9,344.7 502.7,338.3 Q502.6,331.9 500.0,325.9 Q497.4,319.8 490.8,315.7 Q484.3,311.7 477.5,309.1 Q470.6,306.6 468.5,302.7 Q466.4,298.9 467.5,295.7 Q468.7,292.6 473.9,286.2 Q479.1,279.8 481.2,271.7 Q483.4,263.6 481.5,256.2 Q479.6,248.8 477.6,244.7 Q475.6,240.5 472.7,237.6 Q469.8,234.7 466.4,233.3 L463.0,231.8 Z" fill="#DDB878" stroke="#D2A55E" stroke-width="0.5"/>
<rect x="437" y="229.8" width="5" height="7.8" rx="1.6" fill="#C99B4E"/>
<path d="M441,233.7 H459 Q466.5,233.9 469.5,238.5" fill="none" stroke="#C99B4E" stroke-width="5.6" stroke-linecap="butt"/>
<line x1="368.6" y1="158" x2="351.5" y2="204" stroke="url(#arrG)" stroke-width="3.2"/>
<polygon points="347.3,215.2 344.6,197 360.6,203.2" fill="#1d1d1d"/>
<!-- sequencer (top-left machine) : coords in 7.077x zoom space -->
<g transform="translate(490,60) scale(0.14130)">
<defs>
<linearGradient id="m1side" x1="0" y1="0" x2="1" y2="0"><stop offset="0" stop-color="#bdbdbd"/><stop offset="1" stop-color="#a6a6a6"/></linearGradient>
<linearGradient id="m1scr" x1="0" y1="0" x2="1" y2="1"><stop offset="0" stop-color="#2a2a2a"/><stop offset="0.5" stop-color="#3a3a3a"/><stop offset="0.5" stop-color="#505050"/><stop offset="1" stop-color="#444"/></linearGradient>
</defs>
<!-- silhouette base -->
<path d="M105,88 L400,62 L692,90 L692,276 L830,300 L832,505 L812,522 L545,612 L490,634 L80,484 L68,440 L68,320 Z" fill="#b3b3b3"/>
<!-- top face -->
<path d="M105,88 L400,62 L692,90 L692,110 L400,130 L310,113 Z" fill="#dedede"/>
<!-- front-left face -->
<path d="M105,88 L310,113 L285,405 L68,315 Z" fill="#a9a9a9"/>
<!-- screen frame -->
<path d="M150,100 L296,116 Q308,118 306,132 L276,392 Q274,406 260,400 L118,340 Q106,334 108,322 L136,112 Q138,98 150,100 Z" fill="#e6e6e6"/>
<path d="M160,138 L265,150 Q276,152 274,162 L250,350 Q248,362 238,358 L136,314 Q126,310 128,300 L148,148 Q150,136 160,138 Z" fill="#2f2f2f"/>
<path d="M268,160 L246,352 L140,308 Z" fill="#4a4a4a"/>
<!-- mid recess -->
<path d="M310,113 L400,130 L362,345 L292,330 Z" fill="#a2a2a2"/>
<path d="M292,330 L362,345 L470,322 L512,378 L480,395 L465,462 L285,405 Z" fill="#757575"/>
<!-- right upper block front -->
<path d="M400,130 L692,110 L692,276 L470,322 L362,345 Z" fill="#b2b2b2"/>
<path d="M400,130 L412,132 L376,345 L362,345 Z" fill="#cfcfcf"/>
<path d="M556,150 L680,138 Q688,138 688,146 L688,262 L545,288 Q535,288 537,278 L548,160 Q549,151 556,150 Z" fill="#b9b9b9" stroke="#c9c9c9" stroke-width="5"/>
<!-- tray top -->
<path d="M400,345 L470,322 L692,276 L830,300 L512,378 Z" fill="#d6d6d6"/>
<path d="M470,322 L610,294 L705,306 L560,338 Z" fill="#999"/>
<!-- lower right front -->
<path d="M512,378 L830,300 L832,505 L545,612 L512,600 Z" fill="#ababab"/>
<path d="M512,378 L545,386 L545,612 L490,634 L482,470 Z" fill="#c6c6c6"/>
<!-- lower-left base -->
<path d="M68,320 L285,405 L465,462 L482,470 L490,634 L80,484 L68,440 Z" fill="#d2d2d2"/>
<path d="M72,440 L440,570 Q470,580 488,600 L490,634 L80,484 Z" fill="#bcbcbc"/>
<path d="M68,400 L450,520 L470,470 L285,405 L68,320 Z" fill="#dcdcdc"/>
<rect x="356" y="350" width="32" height="32" rx="4" fill="#cfcfcf" stroke="#999" stroke-width="3"/>
<rect x="790" y="512" width="28" height="10" fill="#888"/><rect x="500" y="612" width="36" height="10" fill="#999"/>
</g>
<!-- gel imager (bottom-left machine) : coords in 5.446x zoom space -->
<g transform="translate(490,150) scale(0.18362)">
<!-- feet -->
<ellipse cx="100" cy="582" rx="18" ry="9" fill="#2b2b2b"/><ellipse cx="270" cy="636" rx="20" ry="10" fill="#2b2b2b"/><ellipse cx="548" cy="534" rx="14" ry="10" fill="#2b2b2b"/>
<!-- lid -->
<path d="M336,52 L390,38 L520,48 L565,76 L622,170 L520,355 L468,375 L245,322 Z" fill="#c9c9c9"/>
<path d="M336,52 L350,58 L262,322 L245,322 Z" fill="#e2e2e2"/>
<path d="M350,56 L560,78 L478,315 L268,292 Z" fill="#3a3a3a"/>
<path d="M336,52 L390,38 L520,48 L565,76 L350,56 Z" fill="#2e2e2e"/>
<path d="M565,76 L622,170 L520,355 L468,375 L478,315 Z" fill="#c6c6c6"/>
<path d="M565,76 L580,84 L498,318 L478,315 Z" fill="#e4e4e4"/>
<!-- lid content -->
<path d="M368,100 L480,104 L452,268 L346,246 Z" fill="#ececec"/>
<path d="M418,112 L478,116 L452,262 L396,252 Z" fill="#c7cfe8"/>
<rect x="376" y="158" width="22" height="30" fill="#9a9a9a"/>
<line x1="434" y1="96" x2="384" y2="252" stroke="#444" stroke-width="3"/>
<rect x="352" y="92" width="76" height="20" rx="10" fill="#9aa0a0" transform="rotate(8 390 102)"/>
<rect x="444" y="112" width="78" height="20" rx="10" fill="#9aa0a0" transform="rotate(-22 483 122)"/>
<rect x="306" y="220" width="76" height="20" rx="10" fill="#9aa0a0" transform="rotate(12 344 230)"/>
<rect x="404" y="232" width="70" height="20" rx="10" fill="#9aa0a0" transform="rotate(50 439 242)"/>
<path d="M290,272 L478,298 L472,322 L282,296 Z" fill="#2b2b2b"/>
<!-- base top -->
<path d="M90,366 L300,320 L470,340 L560,366 L602,386 L322,428 Z" fill="#333"/>
<path d="M436,411 L470,340 L522,353 L602,386 Z" fill="#cdcdcd"/>
<path d="M150,372 L305,338 L455,362 L320,400 Z" fill="#555"/>
<path d="M250,368 L320,352 L420,372 L345,392 Z" fill="#cfd4e2"/>
<path d="M215,375 L300,396 L320,390 L240,368 Z" fill="#e4e4e4"/>
<!-- right side -->
<path d="M322,428 L602,386 L602,510 L312,612 L282,622 Z" fill="#c4c4c4"/>
<path d="M322,428 L345,426 L318,610 L282,622 Z" fill="#dadada"/>
<!-- front face -->
<path d="M100,366 L312,424 Q324,428 321,440 L288,610 Q284,624 270,620 L72,546 Q58,540 60,528 L84,378 Q88,364 100,366 Z" fill="#2e2e2e"/>
<path d="M112,402 L290,452 L260,588 L86,522 Z" fill="#484848"/>
<path d="M285,470 L260,588 L120,535 Z" fill="#666"/>
</g>
<!-- light microscope: lower part (6.745x zoom space, origin 625,150) drawn first -->
<g transform="translate(625,150) scale(0.14826)">
<path d="M30,-10 L150,-10 L150,100 L30,105 Z" fill="#dcd9d7"/>
<path d="M150,-10 L560,-10 L562,160 Q560,185 530,186 L260,188 L170,252 L165,110 L150,100 Z" fill="#4a4d55"/>
<rect x="440" y="-10" width="62" height="192" fill="#6e7178"/>
<path d="M150,88 Q350,100 562,88 L562,97 Q350,109 150,97 Z" fill="#383b42"/>
<rect x="178" y="115" width="28" height="52" rx="4" fill="#2e3035"/>
<!-- column behind stage -->
<path d="M255,190 L325,190 L345,250 L345,472 L250,505 Z" fill="#bfbcb8"/>
<path d="M292,300 L345,300 L345,472 L292,472 Z" fill="#cfccc8"/>
<!-- nosepiece + objectives -->
<path d="M320,186 L548,186 L542,224 Q520,240 480,240 L400,236 Z" fill="#e4e2e0"/>
<path d="M312,228 L345,208 L392,240 L372,282 L330,262 Z" fill="#d0d0d5"/>
<path d="M345,208 L392,240 L372,282 L352,270 Z" fill="#dedee3"/>
<rect x="405" y="238" width="52" height="48" rx="4" fill="#d9d9de"/>
<rect x="455" y="238" width="36" height="38" rx="4" fill="#c6c6cc"/>
<!-- arm -->
<path d="M255,190 L170,252 Q100,340 65,450 L45,540 L250,577 L262,500 Z" fill="#e8e4e2"/>
<path d="M45,540 L250,577 L252,560 L50,525 Z" fill="#d6d2cf"/>
<!-- base -->
<path d="M255,520 L292,470 L470,470 L590,505 L706,615 L706,655 L480,686 L250,577 Z" fill="#edebe9"/>
<path d="M262,500 L292,470 L470,470 L590,505 L706,615 L480,652 L258,522 Z" fill="#d9d7d5"/>
<!-- stage -->
<path d="M275,312 L450,286 L612,296 L626,322 L626,346 L330,356 L275,336 Z" fill="#303337"/>
<path d="M300,306 L455,289 L602,299 L606,316 L322,326 Z" fill="#4b4e53"/>
<line x1="296" y1="340" x2="296" y2="380" stroke="#777" stroke-width="5"/>
<!-- substage -->
<path d="M340,386 L400,370 L592,386 L592,440 L562,452 L552,430 L462,440 L456,462 L414,462 L410,442 L372,446 L340,440 Z" fill="#2f3236"/>
<path d="M352,390 L402,376 L580,390 L470,402 Z" fill="#45484d"/>
<circle cx="305" cy="390" r="21" fill="#5a5d63"/><circle cx="298" cy="390" r="12" fill="#777a80"/>
<!-- big knob -->
<ellipse cx="245" cy="485" rx="40" ry="44" fill="#484b52"/><ellipse cx="218" cy="486" rx="22" ry="24" fill="#6a6d74"/>
<ellipse cx="430" cy="490" rx="46" ry="16" fill="#2b2d31"/>
<!-- screen -->
<path d="M375,526 L586,505 L706,611 L482,646 Z" fill="#4a4d55"/>
<path d="M416,540 L575,523 L664,600 L492,626 Z" fill="#e4e4e7"/>
<path d="M520,530 L560,526 L540,620 L505,624 Z" fill="#f3f3f5" fill-opacity="0.8"/>
</g>
<!-- upper part (7.082x zoom space, origin 625,65) -->
<g transform="translate(625,65) scale(0.14120)">
<path d="M38,180 L125,100 L105,200 L55,420 L40,700 L36,700 Z" fill="#4a4d55"/>
<path d="M125,100 L150,42 L185,250 L162,300 L156,520 L142,705 L30,705 L50,400 L90,200 Z" fill="#d8d5d3"/>
<path d="M150,42 L390,80 L432,240 L420,262 L185,252 Z" fill="#e7e3e1"/>
<!-- dark behind boxes -->
<path d="M160,262 L430,262 L430,480 L345,485 L300,605 L160,622 Z" fill="#43464c"/>
<!-- lamp boxes -->
<path d="M170,285 Q172,268 195,268 L315,272 L318,366 L190,368 Q160,350 170,285 Z" fill="#9d9d9d"/>
<path d="M195,268 L315,272 L300,290 L205,288 Z" fill="#b5b5b5"/>
<path d="M326,276 L430,280 L430,372 L326,370 Z" fill="#a4a4a4"/>
<path d="M186,382 L318,378 L318,480 L200,492 Q172,470 186,382 Z" fill="#a0a0a0"/>
<path d="M326,380 L430,378 L430,470 L345,482 L326,470 Z" fill="#979797"/>
<ellipse cx="172" cy="335" rx="22" ry="30" fill="#7a7a7a"/><ellipse cx="170" cy="440" rx="22" ry="34" fill="#6e6e6e"/>
<!-- head -->
<path d="M362,272 L440,250 L530,270 L546,300 L520,336 L380,346 L362,312 Z" fill="#d7d5d3"/>
<path d="M362,272 L440,250 L530,270 L450,290 Z" fill="#efedeb"/>
<rect x="430" y="338" width="50" height="76" fill="#c9c9d0"/><rect x="430" y="338" width="50" height="10" fill="#9a9aa2"/>
<path d="M425,410 L485,410 L500,440 L410,445 Z" fill="#8e9096"/>
<!-- eyepiece base -->
<path d="M300,604 L330,530 L380,490 L400,450 L492,432 L612,590 L602,612 Z" fill="#eeeae8"/>
<!-- eyepiece 1 -->
<path d="M402,535 L472,452 L548,502 L470,582 Z" fill="#cfcfcf"/>
<path d="M472,452 L500,440 L560,490 L548,502 Z" fill="#3b3e44"/>
<path d="M486,448 L545,362 Q580,345 610,368 Q630,392 622,405 L556,486 Z" fill="#4d5058"/>
<ellipse cx="590" cy="378" rx="34" ry="22" transform="rotate(35 590 378)" fill="#3a3d43"/>
<!-- eyepiece 2 -->
<path d="M512,548 L590,462 L662,504 L572,588 Z" fill="#c6c6c6"/>
<path d="M590,462 L612,448 L672,492 L662,504 Z" fill="#3b3e44"/>
<path d="M600,456 L652,380 Q684,362 710,380 Q730,402 722,416 L664,488 Z" fill="#4d5058"/>
<ellipse cx="690" cy="392" rx="32" ry="20" transform="rotate(35 690 392)" fill="#3a3d43"/>
<!-- dark mid-body top -->
<path d="M160,622 L300,604 L602,612 L596,705 L160,705 Z" fill="#4a4d55"/>
<rect x="460" y="610" width="60" height="95" fill="#6e7178"/>
</g>
<!-- AFM: base (4.165x zoom space, origin 730,80) -->
<g transform="translate(730,80) scale(0.24010)">
<path d="M45,460 L340,438 L665,465 L665,580 L640,588 L320,642 L270,637 L45,577 Z" fill="#3f4245"/>
<path d="M45,460 L340,438 L665,465 L300,522 Z" fill="#5c5f62"/>
<path d="M45,460 L300,522 L300,642 L270,637 L45,577 Z" fill="#6c6f72"/>
<path d="M300,522 L665,465 L665,478 L300,536 Z" fill="#4b4e51"/>
<path d="M100,522 L212,549 L212,613 L100,586 Z" fill="#2e3134"/>
<path d="M110,539 L198,560 L198,596 L110,575 Z" fill="#2f5fb0"/>
<path d="M118,553 L150,560 L150,576 L118,569 Z" fill="#5e9a8a"/>
<path d="M156,556 L192,565 L192,580 L176,577 L176,590 L160,586 Z" fill="#6f9be0"/>
<rect x="505" y="588" width="12" height="8" fill="#666"/>
</g>
<!-- AFM: upper (6.433x zoom space, origin 760,90) -->
<g transform="translate(760,90) scale(0.15545)">
<!-- right attachment + wire -->
<path d="M590,530 L700,520 L737,536 L737,600 L590,606 Z" fill="#3a3d40"/>
<path d="M590,530 L700,520 L737,536 L625,545 Z" fill="#5a5d60"/>
<rect x="604" y="568" width="54" height="22" rx="10" fill="#909090"/>
<path d="M655,580 Q690,590 690,620 L690,662" fill="none" stroke="#777" stroke-width="4"/>
<!-- column -->
<path d="M350,395 L440,410 L452,652 L350,622 Z" fill="#56595c"/>
<path d="M440,410 L590,405 L590,642 L452,652 Z" fill="#3a3d40"/>
<!-- stage -->
<path d="M40,604 L372,598 L372,660 L150,672 L40,652 Z" fill="#2c2f32"/>
<path d="M40,545 L170,553 L170,612 L40,606 Z" fill="#5a5d60"/>
<path d="M170,553 L372,548 L372,600 L170,613 Z" fill="#6c6f72"/>
<path d="M40,540 L110,535 L300,540 L372,548 L372,560 L170,556 L40,550 Z" fill="#7c7e80"/>
<path d="M110,535 L300,540 L290,548 L125,543 Z" fill="#2f3235"/>
<circle cx="80" cy="640" r="9" fill="#8a8a8a"/><circle cx="295" cy="650" r="9" fill="#8a8a8a"/>
<circle cx="145" cy="527" r="5" fill="#999"/><circle cx="195" cy="527" r="5" fill="#999"/>
<!-- lower dark head -->
<path d="M40,335 Q40,328 48,328 L345,325 L440,345 L600,345 L600,405 L440,412 L345,397 L300,422 L235,422 L48,417 Q40,417 40,408 Z" fill="#3f4245"/>
<path d="M345,345 L440,345 L440,412 L345,397 Z" fill="#34373a"/>
<path d="M235,345 L330,340 L300,422 L235,422 Z" fill="#25282b"/>
<!-- objective -->
<path d="M180,424 L240,424 L240,478 L226,500 L196,500 L180,478 Z" fill="#9a9a9a"/>
<rect x="196" y="424" width="16" height="72" fill="#c8c8c8"/>
<rect x="240" y="446" width="18" height="34" fill="#2e3134"/>
<!-- probe -->
<path d="M250,372 L335,340 L346,356 L302,386 L372,446 L352,464 L290,396 L256,387 Z" fill="#c9c9c9" stroke="#55585b" stroke-width="4" stroke-linejoin="round"/>
<path d="M302,386 L372,446 L360,456 L296,392 Z" fill="#8e8e8e"/>
<!-- camera cylinder -->
<path d="M598,240 L650,240 Q682,290 650,340 L598,340 Z" fill="#4a4d50"/>
<path d="M615,240 L625,240 L625,340 L615,340 Z M635,240 L645,240 L645,340 L635,340 Z" fill="#5e6164"/>
<!-- light head -->
<path d="M55,232 Q55,215 80,205 L585,205 Q600,212 600,232 L600,328 L420,336 L345,325 L70,322 Q55,320 55,305 Z" fill="#e8e4e2"/>
<path d="M80,205 L585,205 Q596,210 598,220 L62,222 Q66,210 80,205 Z" fill="#f6f4f2"/>
<rect x="78" y="268" width="58" height="10" rx="3" fill="#333"/>
<rect x="185" y="236" width="62" height="86" fill="#b4b4bc"/>
<path d="M247,238 L305,238 Q316,238 316,250 L316,322 L247,322 Z" fill="#3a3d40"/>
<rect x="424" y="250" width="42" height="66" rx="5" fill="#a4a4a8"/><rect x="432" y="256" width="30" height="54" fill="#3a3d40"/>
<rect x="516" y="250" width="42" height="66" rx="5" fill="#a4a4a8"/><rect x="524" y="256" width="30" height="54" fill="#3a3d40"/>
<rect x="556" y="248" width="22" height="76" rx="4" fill="#b8b8bc"/>
<!-- top head -->
<path d="M88,100 L190,95 L372,104 L372,198 L88,196 Z" fill="#3f4245"/>
<path d="M88,100 L150,38 L240,28 L190,95 Z" fill="#4b4e51"/>
<path d="M240,28 L372,100 L372,120 L190,110 L190,95 Z" fill="#5a5d60"/>
<path d="M132,86 L166,46 L160,86 Z" fill="#2e3134"/>
<path d="M372,138 L425,138 Q436,140 436,158 Q436,176 425,178 L372,178 Z" fill="#4a4d50"/>
<circle cx="225" cy="156" r="19" fill="#1f2123"/><circle cx="240" cy="156" r="5" fill="#eee"/>
</g>
<!-- lipid bilayer -->
<g fill="none" stroke="#D3D8EC" stroke-width="0.8" stroke-linecap="round"><path d="M580.8,317.0 Q581.4,322.5 582.1,327.9"/><path d="M580.8,317.0 Q580.1,322.5 579.4,327.9"/><path d="M586.5,317.0 Q587.2,322.5 587.8,327.9"/><path d="M586.5,317.0 Q585.8,322.5 585.2,327.9"/><path d="M592.0,317.0 Q592.7,322.5 593.3,327.9"/><path d="M592.0,317.0 Q591.3,322.5 590.7,327.9"/><path d="M597.8,317.0 Q598.4,322.5 599.1,327.9"/><path d="M597.8,317.0 Q597.1,322.5 596.4,327.9"/><path d="M603.2,317.0 Q603.9,322.5 604.6,327.9"/><path d="M603.2,317.0 Q602.6,322.5 601.9,327.9"/><path d="M609.0,317.0 Q609.7,322.5 610.3,327.9"/><path d="M609.0,317.0 Q608.3,322.5 607.7,327.9"/><path d="M614.5,317.0 Q615.2,322.5 615.8,327.9"/><path d="M614.5,317.0 Q613.8,322.5 613.2,327.9"/><path d="M620.2,317.0 Q620.9,322.5 621.6,327.9"/><path d="M620.2,317.0 Q619.6,322.5 618.9,327.9"/><path d="M625.8,317.0 Q626.4,322.5 627.1,327.9"/><path d="M625.8,317.0 Q625.1,322.5 624.4,327.9"/><path d="M631.5,317.0 Q632.2,322.5 632.8,327.9"/><path d="M631.5,317.0 Q630.8,322.5 630.2,327.9"/><path d="M637.0,317.0 Q637.7,322.5 638.3,327.9"/><path d="M637.0,317.0 Q636.3,322.5 635.7,327.9"/><path d="M641.8,315.5 Q642.8,320.9 643.8,326.3"/><path d="M641.8,315.5 Q641.5,321.0 641.2,326.5"/><path d="M646.2,314.5 Q647.7,319.8 649.1,325.1"/><path d="M646.2,314.5 Q646.3,320.0 646.4,325.5"/><path d="M651.0,311.5 Q653.0,316.6 654.9,321.8"/><path d="M651.0,311.5 Q651.7,317.0 652.3,322.4"/><path d="M656.0,310.5 Q658.3,315.5 660.6,320.5"/><path d="M656.0,310.5 Q657.0,315.9 658.1,321.3"/><path d="M660.2,307.5 Q663.4,312.0 666.6,316.5"/><path d="M660.2,307.5 Q662.2,312.6 664.2,317.8"/><path d="M666.2,300.5 Q669.9,304.6 673.6,308.7"/><path d="M666.2,300.5 Q668.8,305.4 671.4,310.2"/><path d="M580.8,341.2 Q580.1,335.8 579.4,330.3"/><path d="M580.8,341.2 Q581.4,335.8 582.1,330.3"/><path d="M586.5,341.2 Q585.8,335.8 585.2,330.3"/><path d="M586.5,341.2 Q587.2,335.8 587.8,330.3"/><path d="M592.0,341.2 Q591.3,335.8 590.7,330.3"/><path d="M592.0,341.2 Q592.7,335.8 593.3,330.3"/><path d="M597.8,341.2 Q597.1,335.8 596.4,330.3"/><path d="M597.8,341.2 Q598.4,335.8 599.1,330.3"/><path d="M603.2,341.2 Q602.6,335.8 601.9,330.3"/><path d="M603.2,341.2 Q603.9,335.8 604.6,330.3"/><path d="M609.0,341.2 Q608.3,335.8 607.7,330.3"/><path d="M609.0,341.2 Q609.7,335.8 610.3,330.3"/><path d="M614.5,341.2 Q613.8,335.8 613.2,330.3"/><path d="M614.5,341.2 Q615.2,335.8 615.8,330.3"/><path d="M620.2,341.2 Q619.6,335.8 618.9,330.3"/><path d="M620.2,341.2 Q620.9,335.8 621.6,330.3"/><path d="M625.8,341.2 Q625.1,335.8 624.4,330.3"/><path d="M625.8,341.2 Q626.4,335.8 627.1,330.3"/><path d="M631.5,341.2 Q630.8,335.8 630.2,330.3"/><path d="M631.5,341.2 Q632.2,335.8 632.8,330.3"/><path d="M637.0,341.2 Q636.3,335.8 635.7,330.3"/><path d="M637.0,341.2 Q637.7,335.8 638.3,330.3"/><path d="M642.0,341.2 Q641.3,335.8 640.7,330.3"/><path d="M642.0,341.2 Q642.7,335.8 643.3,330.3"/><path d="M646.8,341.8 Q646.3,336.3 645.8,330.8"/><path d="M646.8,341.8 Q647.6,336.3 648.5,330.9"/><path d="M652.0,343.0 Q652.1,337.5 652.2,332.0"/><path d="M652.0,343.0 Q653.4,337.7 654.8,332.4"/><path d="M656.8,344.0 Q657.4,338.5 658.1,333.1"/><path d="M656.8,344.0 Q658.7,338.9 660.7,333.7"/><path d="M661.5,345.8 Q662.7,340.4 664.0,335.0"/><path d="M661.5,345.8 Q664.0,340.8 666.5,335.9"/><path d="M666.2,348.2 Q668.0,343.0 669.8,337.8"/><path d="M666.2,348.2 Q669.2,343.6 672.2,339.0"/><path d="M670.5,351.8 Q672.8,346.8 675.1,341.8"/><path d="M670.5,351.8 Q674.0,347.5 677.4,343.2"/><path d="M723.8,307.0 Q720.9,311.7 718.1,316.4"/><path d="M723.8,307.0 Q719.9,310.9 716.0,314.8"/><path d="M728.0,310.0 Q726.0,315.1 724.1,320.3"/><path d="M728.0,310.0 Q724.8,314.5 721.7,319.0"/><path d="M733.0,310.8 Q731.8,316.1 730.5,321.5"/><path d="M733.0,310.8 Q730.5,315.7 728.0,320.6"/><path d="M737.5,313.8 Q737.0,319.2 736.5,324.7"/><path d="M737.5,313.8 Q735.7,319.0 733.9,324.2"/><path d="M742.2,315.0 Q742.2,320.5 742.2,326.0"/><path d="M742.2,315.0 Q740.9,320.3 739.6,325.7"/><path d="M747.0,316.5 Q747.5,322.0 748.0,327.5"/><path d="M747.0,316.5 Q746.1,321.9 745.3,327.4"/><path d="M752.5,316.8 Q753.2,322.2 753.8,327.7"/><path d="M752.5,316.8 Q751.8,322.2 751.2,327.7"/><path d="M758.1,316.8 Q758.8,322.2 759.5,327.7"/><path d="M758.1,316.8 Q757.5,322.2 756.8,327.7"/><path d="M763.8,316.8 Q764.5,322.2 765.1,327.7"/><path d="M763.8,316.8 Q763.1,322.2 762.5,327.7"/><path d="M769.5,316.8 Q770.1,322.2 770.8,327.7"/><path d="M769.5,316.8 Q768.8,322.2 768.1,327.7"/><path d="M775.1,316.8 Q775.8,322.2 776.4,327.7"/><path d="M775.1,316.8 Q774.4,322.2 773.8,327.7"/><path d="M780.8,316.8 Q781.4,322.2 782.1,327.7"/><path d="M780.8,316.8 Q780.1,322.2 779.4,327.7"/><path d="M786.4,316.8 Q787.1,322.2 787.7,327.7"/><path d="M786.4,316.8 Q785.7,322.2 785.1,327.7"/><path d="M792.1,316.8 Q792.7,322.2 793.4,327.7"/><path d="M792.1,316.8 Q791.4,322.2 790.7,327.7"/><path d="M797.7,316.8 Q798.4,322.2 799.0,327.7"/><path d="M797.7,316.8 Q797.0,322.2 796.4,327.7"/><path d="M803.4,316.8 Q804.0,322.2 804.7,327.7"/><path d="M803.4,316.8 Q802.7,322.2 802.0,327.7"/><path d="M713.8,351.2 Q710.3,347.0 706.8,342.7"/><path d="M713.8,351.2 Q711.4,346.3 709.1,341.3"/><path d="M718.0,348.0 Q715.0,343.4 712.0,338.8"/><path d="M718.0,348.0 Q716.2,342.8 714.4,337.6"/><path d="M722.5,345.2 Q720.0,340.3 717.5,335.4"/><path d="M722.5,345.2 Q721.3,339.9 720.0,334.5"/><path d="M727.2,343.8 Q725.3,338.6 723.3,333.5"/><path d="M727.2,343.8 Q726.6,338.3 725.9,332.8"/><path d="M732.0,342.5 Q730.6,337.2 729.2,331.9"/><path d="M732.0,342.5 Q731.9,337.0 731.8,331.5"/><path d="M737.0,341.5 Q736.0,336.1 734.9,330.7"/><path d="M737.0,341.5 Q737.3,336.0 737.6,330.5"/><path d="M742.0,341.2 Q741.3,335.8 740.7,330.3"/><path d="M742.0,341.2 Q742.7,335.8 743.3,330.3"/><path d="M747.6,341.2 Q746.9,335.8 746.2,330.3"/><path d="M747.6,341.2 Q748.2,335.8 748.9,330.3"/><path d="M753.1,341.2 Q752.5,335.8 751.8,330.3"/><path d="M753.1,341.2 Q753.8,335.8 754.5,330.3"/><path d="M758.7,341.2 Q758.1,335.8 757.4,330.3"/><path d="M758.7,341.2 Q759.4,335.8 760.1,330.3"/><path d="M764.3,341.2 Q763.6,335.8 763.0,330.3"/><path d="M764.3,341.2 Q765.0,335.8 765.6,330.3"/><path d="M769.9,341.2 Q769.2,335.8 768.5,330.3"/><path d="M769.9,341.2 Q770.5,335.8 771.2,330.3"/><path d="M775.4,341.2 Q774.8,335.8 774.1,330.3"/><path d="M775.4,341.2 Q776.1,335.8 776.8,330.3"/><path d="M781.0,341.2 Q780.4,335.8 779.7,330.3"/><path d="M781.0,341.2 Q781.7,335.8 782.4,330.3"/><path d="M786.6,341.2 Q785.9,335.8 785.3,330.3"/><path d="M786.6,341.2 Q787.3,335.8 787.9,330.3"/><path d="M792.2,341.2 Q791.5,335.8 790.8,330.3"/><path d="M792.2,341.2 Q792.8,335.8 793.5,330.3"/><path d="M797.7,341.2 Q797.1,335.8 796.4,330.3"/><path d="M797.7,341.2 Q798.4,335.8 799.1,330.3"/><path d="M803.3,341.2 Q802.7,335.8 802.0,330.3"/><path d="M803.3,341.2 Q804.0,335.8 804.7,330.3"/><path d="M644.0,260.2 L654.3,262.9"/><path d="M644.0,260.2 L652.9,266.0"/><path d="M622.8,272.8 L625.5,283.5"/><path d="M622.8,272.8 L622.0,283.8"/><path d="M661.0,281.0 L661.8,292.0"/><path d="M661.0,281.0 L658.3,291.7"/><path d="M679.5,290.2 L683.7,300.7"/><path d="M679.5,290.2 L680.2,301.5"/><path d="M704.0,257.8 L715.3,258.7"/><path d="M704.0,257.8 L714.4,262.2"/><path d="M702.0,279.2 L702.5,290.1"/><path d="M702.0,279.2 L699.1,289.7"/><path d="M714.8,279.2 L717.9,289.6"/><path d="M714.8,279.2 L714.5,290.1"/><path d="M707.0,292.5 L709.9,302.9"/><path d="M707.0,292.5 L706.5,303.3"/><path d="M717.8,299.8 L713.6,310.3"/><path d="M717.8,299.8 L710.5,308.5"/><path d="M734.2,293.2 L725.1,299.0"/><path d="M734.2,293.2 L723.7,295.9"/><path d="M742.2,290.0 L742.3,301.4"/><path d="M742.2,290.0 L738.7,300.8"/><path d="M646.8,362.2 L657.6,365.1"/><path d="M646.8,362.2 L656.2,368.3"/><path d="M669.2,361.8 L676.1,352.5"/><path d="M669.2,361.8 L678.7,355.2"/><path d="M681.0,359.0 L680.3,348.2"/><path d="M681.0,359.0 L683.7,348.5"/><path d="M676.2,377.8 L685.6,383.8"/><path d="M676.2,377.8 L683.2,386.5"/><path d="M703.0,358.2 L699.8,348.1"/><path d="M703.0,358.2 L703.2,347.6"/><path d="M715.0,363.0 L706.3,356.3"/><path d="M715.0,363.0 L708.9,353.9"/><path d="M709.5,375.5 L701.9,367.4"/><path d="M709.5,375.5 L704.8,365.4"/><path d="M737.2,361.8 L727.8,367.8"/><path d="M737.2,361.8 L726.4,364.6"/></g>
<g fill="#9B9DBC"><circle cx="580.8" cy="317.0" r="2.45"/><circle cx="586.5" cy="317.0" r="2.45"/><circle cx="592.0" cy="317.0" r="2.45"/><circle cx="597.8" cy="317.0" r="2.45"/><circle cx="603.2" cy="317.0" r="2.45"/><circle cx="609.0" cy="317.0" r="2.45"/><circle cx="614.5" cy="317.0" r="2.45"/><circle cx="620.2" cy="317.0" r="2.45"/><circle cx="625.8" cy="317.0" r="2.45"/><circle cx="631.5" cy="317.0" r="2.45"/><circle cx="637.0" cy="317.0" r="2.45"/><circle cx="641.8" cy="315.5" r="2.45"/><circle cx="646.2" cy="314.5" r="2.45"/><circle cx="651.0" cy="311.5" r="2.45"/><circle cx="656.0" cy="310.5" r="2.45"/><circle cx="660.2" cy="307.5" r="2.45"/><circle cx="666.2" cy="300.5" r="2.45"/><circle cx="580.8" cy="341.2" r="2.45"/><circle cx="586.5" cy="341.2" r="2.45"/><circle cx="592.0" cy="341.2" r="2.45"/><circle cx="597.8" cy="341.2" r="2.45"/><circle cx="603.2" cy="341.2" r="2.45"/><circle cx="609.0" cy="341.2" r="2.45"/><circle cx="614.5" cy="341.2" r="2.45"/><circle cx="620.2" cy="341.2" r="2.45"/><circle cx="625.8" cy="341.2" r="2.45"/><circle cx="631.5" cy="341.2" r="2.45"/><circle cx="637.0" cy="341.2" r="2.45"/><circle cx="642.0" cy="341.2" r="2.45"/><circle cx="646.8" cy="341.8" r="2.45"/><circle cx="652.0" cy="343.0" r="2.45"/><circle cx="656.8" cy="344.0" r="2.45"/><circle cx="661.5" cy="345.8" r="2.45"/><circle cx="666.2" cy="348.2" r="2.45"/><circle cx="670.5" cy="351.8" r="2.45"/><circle cx="723.8" cy="307.0" r="2.45"/><circle cx="728.0" cy="310.0" r="2.45"/><circle cx="733.0" cy="310.8" r="2.45"/><circle cx="737.5" cy="313.8" r="2.45"/><circle cx="742.2" cy="315.0" r="2.45"/><circle cx="747.0" cy="316.5" r="2.45"/><circle cx="752.5" cy="316.8" r="2.45"/><circle cx="758.1" cy="316.8" r="2.45"/><circle cx="763.8" cy="316.8" r="2.45"/><circle cx="769.5" cy="316.8" r="2.45"/><circle cx="775.1" cy="316.8" r="2.45"/><circle cx="780.8" cy="316.8" r="2.45"/><circle cx="786.4" cy="316.8" r="2.45"/><circle cx="792.1" cy="316.8" r="2.45"/><circle cx="797.7" cy="316.8" r="2.45"/><circle cx="803.4" cy="316.8" r="2.45"/><circle cx="713.8" cy="351.2" r="2.45"/><circle cx="718.0" cy="348.0" r="2.45"/><circle cx="722.5" cy="345.2" r="2.45"/><circle cx="727.2" cy="343.8" r="2.45"/><circle cx="732.0" cy="342.5" r="2.45"/><circle cx="737.0" cy="341.5" r="2.45"/><circle cx="742.0" cy="341.2" r="2.45"/><circle cx="747.6" cy="341.2" r="2.45"/><circle cx="753.1" cy="341.2" r="2.45"/><circle cx="758.7" cy="341.2" r="2.45"/><circle cx="764.3" cy="341.2" r="2.45"/><circle cx="769.9" cy="341.2" r="2.45"/><circle cx="775.4" cy="341.2" r="2.45"/><circle cx="781.0" cy="341.2" r="2.45"/><circle cx="786.6" cy="341.2" r="2.45"/><circle cx="792.2" cy="341.2" r="2.45"/><circle cx="797.7" cy="341.2" r="2.45"/><circle cx="803.3" cy="341.2" r="2.45"/><circle cx="644.0" cy="260.2" r="2.45"/><circle cx="622.8" cy="272.8" r="2.45"/><circle cx="661.0" cy="281.0" r="2.45"/><circle cx="679.5" cy="290.2" r="2.45"/><circle cx="704.0" cy="257.8" r="2.45"/><circle cx="702.0" cy="279.2" r="2.45"/><circle cx="714.8" cy="279.2" r="2.45"/><circle cx="707.0" cy="292.5" r="2.45"/><circle cx="717.8" cy="299.8" r="2.45"/><circle cx="734.2" cy="293.2" r="2.45"/><circle cx="742.2" cy="290.0" r="2.45"/><circle cx="646.8" cy="362.2" r="2.45"/><circle cx="669.2" cy="361.8" r="2.45"/><circle cx="681.0" cy="359.0" r="2.45"/><circle cx="676.2" cy="377.8" r="2.45"/><circle cx="703.0" cy="358.2" r="2.45"/><circle cx="715.0" cy="363.0" r="2.45"/><circle cx="709.5" cy="375.5" r="2.45"/><circle cx="737.2" cy="361.8" r="2.45"/></g>
<!-- mouse + syringe -->
<path d="M1050.2,176.7 Q1058.4,179.1 1062.3,181.8 Q1066.3,184.4 1068.0,187.7 Q1069.6,190.9 1068.2,193.8 Q1066.8,196.8 1061.7,198.2 Q1056.6,199.6 1050.3,198.9 Q1044.0,198.1 1037.5,196.2 Q1031.0,194.4 1024.4,193.1 Q1017.9,191.9 1013.2,192.1 Q1008.6,192.3 1006.1,193.2 L1003.6,194.0 L1003.9,195.1 Q1008.8,193.9 1013.2,193.9 Q1017.7,193.8 1024.1,195.2 Q1030.5,196.6 1037.0,198.6 Q1043.4,200.6 1050.1,201.5 Q1056.7,202.5 1062.7,200.9 Q1068.6,199.3 1070.8,195.1 Q1073.0,190.9 1071.1,186.4 Q1069.1,181.9 1064.6,178.7 Q1060.2,175.5 1055.8,174.1 L1051.5,172.7 Z" fill="#DCA89C"/>
<path d="M1018.4,183.8 C1018.4,183.6 1020.9,185.8 1023.0,186.0 C1025.0,186.2 1027.9,185.8 1030.7,185.1 C1033.6,184.4 1037.7,182.4 1039.8,181.9 C1042.0,181.3 1043.1,180.9 1043.7,181.6 C1044.3,182.2 1044.2,184.6 1043.3,185.7 C1042.5,186.9 1040.6,187.6 1038.5,188.3 C1036.4,189.1 1033.1,190.1 1030.7,190.3 C1028.4,190.5 1025.6,190.1 1024.3,189.6 C1023.0,189.1 1023.9,188.3 1023.0,187.3 C1022.0,186.3 1018.4,184.0 1018.4,183.8 Z" fill="#E2B6AA"/>
<path d="M965.3,186.0 C966.1,185.4 970.1,184.6 972.4,184.4 C974.7,184.3 977.1,185.9 978.9,185.1 C980.7,184.3 981.9,180.6 983.4,179.9 C984.9,179.3 987.7,180.2 988.0,181.2 C988.2,182.2 986.4,184.7 985.1,185.7 C983.8,186.8 982.3,187.1 980.2,187.7 C978.1,188.2 974.6,189.1 972.4,189.1 C970.2,189.2 968.4,188.5 967.2,187.9 C966.0,187.4 964.4,186.6 965.3,186.0 Z" fill="#E2B6AA"/>
<ellipse cx="978.5" cy="142.3" rx="4.5" ry="2.9" transform="rotate(-20 978.5 142.3)" fill="#DDD6D2" stroke="#CBC3BE" stroke-width="0.5"/>
<path d="M950.1,156.6 C951.0,155.3 953.1,152.9 955.6,151.4 C958.0,149.9 961.6,148.6 964.6,147.5 C967.7,146.4 970.9,145.4 973.7,144.9 C976.5,144.4 979.1,144.2 981.5,144.5 C983.9,144.8 985.4,146.2 988.0,146.9 C990.6,147.5 993.8,148.2 997.0,148.1 C1000.3,148.1 1004.0,146.8 1007.4,146.5 C1010.9,146.1 1014.8,145.9 1017.8,146.2 C1020.8,146.5 1022.7,147.0 1025.6,148.1 C1028.4,149.3 1031.6,151.3 1034.6,153.3 C1037.7,155.4 1041.1,158.2 1043.7,160.5 C1046.3,162.7 1048.8,164.9 1050.2,166.9 C1051.6,169.0 1052.2,170.9 1052.3,172.8 C1052.3,174.6 1051.4,176.6 1050.4,178.0 C1049.5,179.4 1048.1,180.4 1046.6,181.2 C1045.0,182.0 1043.8,182.2 1041.1,182.5 C1038.5,182.8 1034.2,183.3 1030.7,183.2 C1027.3,183.0 1023.8,182.4 1020.4,181.9 C1016.9,181.3 1013.0,180.0 1010.0,179.9 C1007.0,179.8 1004.6,180.6 1002.2,181.2 C999.8,181.9 997.8,183.6 995.7,183.8 C993.7,184.0 991.4,183.4 989.9,182.5 C988.4,181.6 987.9,179.8 986.7,178.6 C985.5,177.4 984.3,176.7 982.8,175.4 C981.3,174.1 979.8,172.0 977.6,170.8 C975.4,169.6 972.8,169.2 969.8,168.2 C966.8,167.3 962.3,166.1 959.4,165.0 C956.6,163.9 954.5,162.7 953.0,161.8 C951.5,160.8 950.8,160.0 950.4,159.2 C949.9,158.3 949.2,157.9 950.1,156.6 Z" fill="#E4E0DD"/>
<path d="M991.2,180.8 C991.6,179.5 995.6,177.4 998.3,176.0 C1001.0,174.7 1004.2,173.1 1007.4,172.8 C1010.7,172.4 1014.3,173.8 1017.8,173.8 C1021.2,173.9 1025.3,173.9 1028.2,173.0 C1031.0,172.2 1033.2,170.7 1034.6,168.9 C1036.1,167.1 1036.7,164.5 1036.8,162.4 C1037.0,160.4 1036.1,158.2 1035.5,156.6 C1035.0,155.0 1032.2,152.2 1033.6,152.8 C1035.0,153.5 1040.9,158.1 1043.7,160.5 C1046.5,162.8 1048.8,164.9 1050.2,166.9 C1051.6,169.0 1052.2,170.9 1052.3,172.8 C1052.3,174.6 1051.4,176.6 1050.4,178.0 C1049.5,179.4 1048.1,180.4 1046.6,181.2 C1045.0,182.0 1043.8,182.2 1041.1,182.5 C1038.5,182.8 1034.2,183.3 1030.7,183.2 C1027.3,183.0 1023.8,182.4 1020.4,181.9 C1016.9,181.3 1013.0,180.0 1010.0,179.9 C1007.0,179.8 1004.6,180.6 1002.2,181.2 C999.8,181.9 997.6,183.9 995.7,183.8 C993.9,183.7 990.8,182.1 991.2,180.8 Z" fill="#D2CBC5"/>
<path d="M1042.4,159.6 C1043.0,159.7 1048.5,164.7 1050.2,166.9 C1051.8,169.1 1052.2,170.9 1052.3,172.8 C1052.3,174.6 1051.4,176.6 1050.4,178.0 C1049.5,179.4 1047.7,180.9 1046.6,181.2 C1045.4,181.5 1043.6,181.3 1043.7,179.9 C1043.8,178.5 1046.6,175.0 1047.1,172.8 C1047.6,170.5 1047.3,168.5 1046.6,166.3 C1045.8,164.1 1041.8,159.4 1042.4,159.6 Z" fill="#C7BFB3"/>
<path d="M991.2,180.8 C991.2,181.2 993.9,183.7 995.7,183.8 C997.6,183.9 999.8,181.9 1002.2,181.2 C1004.6,180.6 1007.0,179.8 1010.0,179.9 C1013.0,180.0 1016.9,181.3 1020.4,181.9 C1023.8,182.4 1027.3,183.0 1030.7,183.2 C1034.2,183.3 1039.0,182.8 1041.1,182.5 C1043.3,182.2 1045.4,181.4 1043.7,181.2 C1042.0,181.1 1034.6,181.7 1030.7,181.6 C1026.9,181.4 1023.8,180.9 1020.4,180.3 C1016.9,179.7 1013.2,178.4 1010.0,178.2 C1006.8,178.1 1003.3,178.7 1000.9,179.3 C998.6,179.8 997.4,181.3 995.7,181.6 C994.1,181.9 991.2,180.4 991.2,180.8 Z" fill="#C7BFB3" fill-opacity="0.8"/>
<ellipse cx="983.4" cy="152.7" rx="5.7" ry="6.5" transform="rotate(18 983.4 152.7)" fill="#EAE2DE" stroke="#CFC6C1" stroke-width="0.5"/>
<ellipse cx="983.3" cy="153.1" rx="4.2" ry="5.0" transform="rotate(18 983.3 153.1)" fill="#DEB2A8"/>
<ellipse cx="965.3" cy="154.4" rx="2.2" ry="1.7" fill="#8A1A22"/>
<ellipse cx="950.6" cy="157.2" rx="1.2" ry="1.6" fill="#E0A8A0"/>
<line x1="954.3" y1="157.9" x2="947.8" y2="145.6" stroke="#e9e5e2" stroke-width="0.5"/><line x1="954.3" y1="157.9" x2="949.7" y2="146.9" stroke="#e9e5e2" stroke-width="0.5"/><line x1="954.3" y1="157.9" x2="952.3" y2="148.1" stroke="#e9e5e2" stroke-width="0.5"/><line x1="954.3" y1="157.9" x2="969.8" y2="162.4" stroke="#e9e5e2" stroke-width="0.5"/><line x1="954.3" y1="157.9" x2="971.1" y2="166.3" stroke="#e9e5e2" stroke-width="0.5"/><line x1="954.3" y1="157.9" x2="965.9" y2="168.9" stroke="#e9e5e2" stroke-width="0.5"/>
<g transform="translate(904.7,63.1) rotate(42.96)">
<defs><linearGradient id="syBb" x1="0" y1="0" x2="0" y2="1"><stop offset="0" stop-color="#f4f4f4"/><stop offset="0.45" stop-color="#e2e2e2"/><stop offset="1" stop-color="#b4b4b4"/></linearGradient><linearGradient id="syLb" x1="0" y1="0" x2="0" y2="1"><stop offset="0" stop-color="#dce8f7"/><stop offset="0.5" stop-color="#c0d4ef"/><stop offset="1" stop-color="#a6c0e3"/></linearGradient></defs>
<line x1="103.5" y1="0" x2="125.0" y2="0" stroke="#666" stroke-width="0.70"/>
<polygon points="1,-1.51 38.3,-2.10 38.3,2.10 1,1.51" fill="url(#syBb)" stroke="#a9a9a9" stroke-width="0.5"/>
<ellipse cx="0" cy="0" rx="1.06" ry="4.25" fill="#ececec" stroke="#a5a5a5" stroke-width="0.7"/>
<rect x="36.3" y="-2.65" width="29.6" height="5.30" fill="url(#syBb)" stroke="#a0a0a0" stroke-width="0.5"/>
<rect x="65.9" y="-2.65" width="28.7" height="5.30" rx="0.6" fill="url(#syLb)" stroke="#8fa5c5" stroke-width="0.5"/>
<rect x="65.1" y="-2.35" width="1.1" height="4.70" fill="#3c3c3c"/>
<rect x="63.5" y="-2.15" width="1.5" height="4.30" fill="#8d8d8d"/>
<line x1="38.5" y1="-0.27" x2="38.5" y2="2.12" stroke="#fff" stroke-opacity="0.55" stroke-width="0.5"/><line x1="40.8" y1="-0.27" x2="40.8" y2="2.12" stroke="#fff" stroke-opacity="0.55" stroke-width="0.5"/><line x1="43.0" y1="-0.27" x2="43.0" y2="2.12" stroke="#fff" stroke-opacity="0.55" stroke-width="0.5"/><line x1="45.3" y1="-0.27" x2="45.3" y2="2.12" stroke="#fff" stroke-opacity="0.55" stroke-width="0.5"/><line x1="47.5" y1="-0.27" x2="47.5" y2="2.12" stroke="#fff" stroke-opacity="0.55" stroke-width="0.5"/><line x1="49.8" y1="-0.27" x2="49.8" y2="2.12" stroke="#fff" stroke-opacity="0.55" stroke-width="0.5"/><line x1="52.0" y1="-0.27" x2="52.0" y2="2.12" stroke="#fff" stroke-opacity="0.55" stroke-width="0.5"/><line x1="54.2" y1="-0.27" x2="54.2" y2="2.12" stroke="#fff" stroke-opacity="0.55" stroke-width="0.5"/><line x1="56.5" y1="-0.27" x2="56.5" y2="2.12" stroke="#fff" stroke-opacity="0.55" stroke-width="0.5"/><line x1="58.7" y1="-0.27" x2="58.7" y2="2.12" stroke="#fff" stroke-opacity="0.55" stroke-width="0.5"/><line x1="61.0" y1="-0.27" x2="61.0" y2="2.12" stroke="#fff" stroke-opacity="0.55" stroke-width="0.5"/><line x1="63.2" y1="-0.27" x2="63.2" y2="2.12" stroke="#fff" stroke-opacity="0.55" stroke-width="0.5"/><line x1="65.4" y1="-0.27" x2="65.4" y2="2.12" stroke="#fff" stroke-opacity="0.55" stroke-width="0.5"/><line x1="67.7" y1="-0.27" x2="67.7" y2="2.12" stroke="#fff" stroke-opacity="0.55" stroke-width="0.5"/><line x1="69.9" y1="-0.27" x2="69.9" y2="2.12" stroke="#fff" stroke-opacity="0.55" stroke-width="0.5"/><line x1="72.2" y1="-0.27" x2="72.2" y2="2.12" stroke="#fff" stroke-opacity="0.55" stroke-width="0.5"/><line x1="74.4" y1="-0.27" x2="74.4" y2="2.12" stroke="#fff" stroke-opacity="0.55" stroke-width="0.5"/><line x1="76.7" y1="-0.27" x2="76.7" y2="2.12" stroke="#fff" stroke-opacity="0.55" stroke-width="0.5"/><line x1="78.9" y1="-0.27" x2="78.9" y2="2.12" stroke="#fff" stroke-opacity="0.55" stroke-width="0.5"/><line x1="81.1" y1="-0.27" x2="81.1" y2="2.12" stroke="#fff" stroke-opacity="0.55" stroke-width="0.5"/><line x1="83.4" y1="-0.27" x2="83.4" y2="2.12" stroke="#fff" stroke-opacity="0.55" stroke-width="0.5"/><line x1="85.6" y1="-0.27" x2="85.6" y2="2.12" stroke="#fff" stroke-opacity="0.55" stroke-width="0.5"/><line x1="87.9" y1="-0.27" x2="87.9" y2="2.12" stroke="#fff" stroke-opacity="0.55" stroke-width="0.5"/><line x1="90.1" y1="-0.27" x2="90.1" y2="2.12" stroke="#fff" stroke-opacity="0.55" stroke-width="0.5"/><line x1="92.4" y1="-0.27" x2="92.4" y2="2.12" stroke="#fff" stroke-opacity="0.55" stroke-width="0.5"/>
<ellipse cx="36.3" cy="0" rx="1.06" ry="6.75" fill="#f3f3f3" stroke="#a5a5a5" stroke-width="0.7"/>
<rect x="35.8" y="-2.25" width="2.6" height="4.50" fill="#e0e0e0"/>
<polygon points="94.6,-1.64 104.5,-0.79 104.5,0.79 94.6,1.64" fill="#5FA39A" stroke="#437f78" stroke-width="0.4"/>
</g>
<!-- intestine -->
<path d="M973.9,217.7 C973.5,219.2 971.4,223.7 971.5,226.8 C971.6,229.9 973.3,233.6 974.6,236.4 C975.9,239.2 978.6,242.4 979.4,243.6" fill="none" stroke="#F2CEBC" stroke-width="9.5" stroke-linecap="butt"/>
<path d="M954.2,246.0 C947.3,250.8 953.4,271.2 953.7,282.0 C954.0,292.8 953.6,303.5 956.1,310.8 C958.6,318.1 962.1,322.3 968.6,325.7 C975.1,329.1 984.6,330.5 995.0,331.0 C1005.4,331.5 1022.0,330.4 1031.0,328.6 C1040.0,326.7 1045.0,325.7 1049.0,319.9 C1053.0,314.2 1054.1,305.1 1055.0,294.0 C1055.9,282.9 1058.5,261.2 1054.5,253.2 C1050.5,245.2 1040.9,246.0 1031.0,246.0 C1021.1,246.0 1007.8,253.2 995.0,253.2 C982.2,253.2 961.1,241.2 954.2,246.0 Z" fill="#EBC4B5"/>
<path d="M960.6,253.4 C960.9,256.7 960.4,262.9 962.0,268.2 C963.6,273.6 965.0,274.3 967.7,277.4 C970.3,280.6 972.6,281.3 974.0,282.4" fill="none" stroke="#DDAE9E" stroke-width="13.2" stroke-linecap="round" stroke-linejoin="round"/>
<path d="M960.6,253.4 C960.9,256.7 960.4,262.9 962.0,268.2 C963.6,273.6 965.0,274.3 967.7,277.4 C970.3,280.6 972.6,281.3 974.0,282.4" fill="none" stroke="#EBC6B7" stroke-width="12" stroke-linecap="round" stroke-linejoin="round"/>
<path d="M960.6,253.4 C960.9,256.7 960.4,262.9 962.0,268.2 C963.6,273.6 965.0,274.3 967.7,277.4 C970.3,280.6 972.6,281.3 974.0,282.4" fill="none" stroke="#F0D0C2" stroke-width="8.5" stroke-linecap="round" stroke-linejoin="round"/>
<path d="M971.2,256.9 C971.5,259.5 972.3,265.7 972.6,268.2" fill="none" stroke="#DDAE9E" stroke-width="13.2" stroke-linecap="round" stroke-linejoin="round"/>
<path d="M971.2,256.9 C971.5,259.5 972.3,265.7 972.6,268.2" fill="none" stroke="#EBC6B7" stroke-width="12" stroke-linecap="round" stroke-linejoin="round"/>
<path d="M971.2,256.9 C971.5,259.5 972.3,265.7 972.6,268.2" fill="none" stroke="#F0D0C2" stroke-width="8.5" stroke-linecap="round" stroke-linejoin="round"/>
<path d="M966.9,286.6 C969.1,288.2 974.9,289.9 976.8,293.7 C978.7,297.4 974.2,299.1 975.4,303.5 C976.7,307.9 981.4,309.0 982.5,313.4 C983.6,317.8 980.8,321.1 980.4,323.3" fill="none" stroke="#DDAE9E" stroke-width="13.2" stroke-linecap="round" stroke-linejoin="round"/>
<path d="M966.9,286.6 C969.1,288.2 974.9,289.9 976.8,293.7 C978.7,297.4 974.2,299.1 975.4,303.5 C976.7,307.9 981.4,309.0 982.5,313.4 C983.6,317.8 980.8,321.1 980.4,323.3" fill="none" stroke="#EBC6B7" stroke-width="12" stroke-linecap="round" stroke-linejoin="round"/>
<path d="M966.9,286.6 C969.1,288.2 974.9,289.9 976.8,293.7 C978.7,297.4 974.2,299.1 975.4,303.5 C976.7,307.9 981.4,309.0 982.5,313.4 C983.6,317.8 980.8,321.1 980.4,323.3" fill="none" stroke="#F0D0C2" stroke-width="8.5" stroke-linecap="round" stroke-linejoin="round"/>
<path d="M983.2,261.2 C982.7,264.3 980.0,270.4 981.1,275.3 C982.2,280.2 984.5,282.4 988.1,283.1 C991.7,283.7 994.7,281.7 997.3,278.1 C999.9,274.5 999.5,270.9 999.7,266.8 C999.9,262.7 998.4,261.3 998.0,259.8" fill="none" stroke="#DDAE9E" stroke-width="13.2" stroke-linecap="round" stroke-linejoin="round"/>
<path d="M983.2,261.2 C982.7,264.3 980.0,270.4 981.1,275.3 C982.2,280.2 984.5,282.4 988.1,283.1 C991.7,283.7 994.7,281.7 997.3,278.1 C999.9,274.5 999.5,270.9 999.7,266.8 C999.9,262.7 998.4,261.3 998.0,259.8" fill="none" stroke="#EBC6B7" stroke-width="12" stroke-linecap="round" stroke-linejoin="round"/>
<path d="M983.2,261.2 C982.7,264.3 980.0,270.4 981.1,275.3 C982.2,280.2 984.5,282.4 988.1,283.1 C991.7,283.7 994.7,281.7 997.3,278.1 C999.9,274.5 999.5,270.9 999.7,266.8 C999.9,262.7 998.4,261.3 998.0,259.8" fill="none" stroke="#F0D0C2" stroke-width="8.5" stroke-linecap="round" stroke-linejoin="round"/>
<path d="M1012.1,261.2 C1012.4,263.4 1011.3,268.5 1013.5,271.1 C1015.7,273.6 1019.1,274.3 1022.0,272.8 C1024.9,271.2 1025.4,266.9 1026.5,264.0 C1027.6,261.1 1026.9,260.7 1027.0,259.8" fill="none" stroke="#DDAE9E" stroke-width="13.2" stroke-linecap="round" stroke-linejoin="round"/>
<path d="M1012.1,261.2 C1012.4,263.4 1011.3,268.5 1013.5,271.1 C1015.7,273.6 1019.1,274.3 1022.0,272.8 C1024.9,271.2 1025.4,266.9 1026.5,264.0 C1027.6,261.1 1026.9,260.7 1027.0,259.8" fill="none" stroke="#EBC6B7" stroke-width="12" stroke-linecap="round" stroke-linejoin="round"/>
<path d="M1012.1,261.2 C1012.4,263.4 1011.3,268.5 1013.5,271.1 C1015.7,273.6 1019.1,274.3 1022.0,272.8 C1024.9,271.2 1025.4,266.9 1026.5,264.0 C1027.6,261.1 1026.9,260.7 1027.0,259.8" fill="none" stroke="#F0D0C2" stroke-width="8.5" stroke-linecap="round" stroke-linejoin="round"/>
<path d="M1034.7,258.4 C1034.4,260.6 1033.6,266.0 1033.3,268.2" fill="none" stroke="#DDAE9E" stroke-width="13.2" stroke-linecap="round" stroke-linejoin="round"/>
<path d="M1034.7,258.4 C1034.4,260.6 1033.6,266.0 1033.3,268.2" fill="none" stroke="#EBC6B7" stroke-width="12" stroke-linecap="round" stroke-linejoin="round"/>
<path d="M1034.7,258.4 C1034.4,260.6 1033.6,266.0 1033.3,268.2" fill="none" stroke="#F0D0C2" stroke-width="8.5" stroke-linecap="round" stroke-linejoin="round"/>
<path d="M1043.2,256.9 C1043.0,259.5 1044.3,263.8 1042.5,268.2 C1040.7,272.7 1037.0,272.6 1035.0,277.0 C1033.0,281.4 1032.4,283.7 1033.6,288.0 C1034.8,292.3 1037.2,296.6 1040.4,296.5 C1043.5,296.3 1046.4,291.9 1047.7,287.3 C1049.0,282.8 1046.6,278.5 1046.3,276.0" fill="none" stroke="#DDAE9E" stroke-width="13.2" stroke-linecap="round" stroke-linejoin="round"/>
<path d="M1043.2,256.9 C1043.0,259.5 1044.3,263.8 1042.5,268.2 C1040.7,272.7 1037.0,272.6 1035.0,277.0 C1033.0,281.4 1032.4,283.7 1033.6,288.0 C1034.8,292.3 1037.2,296.6 1040.4,296.5 C1043.5,296.3 1046.4,291.9 1047.7,287.3 C1049.0,282.8 1046.6,278.5 1046.3,276.0" fill="none" stroke="#EBC6B7" stroke-width="12" stroke-linecap="round" stroke-linejoin="round"/>
<path d="M1043.2,256.9 C1043.0,259.5 1044.3,263.8 1042.5,268.2 C1040.7,272.7 1037.0,272.6 1035.0,277.0 C1033.0,281.4 1032.4,283.7 1033.6,288.0 C1034.8,292.3 1037.2,296.6 1040.4,296.5 C1043.5,296.3 1046.4,291.9 1047.7,287.3 C1049.0,282.8 1046.6,278.5 1046.3,276.0" fill="none" stroke="#F0D0C2" stroke-width="8.5" stroke-linecap="round" stroke-linejoin="round"/>
<path d="M1004.4,282.4 C1006.1,284.6 1009.9,287.9 1012.1,292.2 C1014.3,296.6 1014.9,299.0 1014.2,302.1 C1013.6,305.3 1010.4,305.4 1009.3,306.4" fill="none" stroke="#DDAE9E" stroke-width="13.2" stroke-linecap="round" stroke-linejoin="round"/>
<path d="M1004.4,282.4 C1006.1,284.6 1009.9,287.9 1012.1,292.2 C1014.3,296.6 1014.9,299.0 1014.2,302.1 C1013.6,305.3 1010.4,305.4 1009.3,306.4" fill="none" stroke="#EBC6B7" stroke-width="12" stroke-linecap="round" stroke-linejoin="round"/>
<path d="M1004.4,282.4 C1006.1,284.6 1009.9,287.9 1012.1,292.2 C1014.3,296.6 1014.9,299.0 1014.2,302.1 C1013.6,305.3 1010.4,305.4 1009.3,306.4" fill="none" stroke="#F0D0C2" stroke-width="8.5" stroke-linecap="round" stroke-linejoin="round"/>
<path d="M1016.4,280.9 C1017.5,282.7 1019.3,288.4 1021.3,288.7 C1023.3,289.0 1024.6,283.8 1025.5,282.4" fill="none" stroke="#DDAE9E" stroke-width="13.2" stroke-linecap="round" stroke-linejoin="round"/>
<path d="M1016.4,280.9 C1017.5,282.7 1019.3,288.4 1021.3,288.7 C1023.3,289.0 1024.6,283.8 1025.5,282.4" fill="none" stroke="#EBC6B7" stroke-width="12" stroke-linecap="round" stroke-linejoin="round"/>
<path d="M1016.4,280.9 C1017.5,282.7 1019.3,288.4 1021.3,288.7 C1023.3,289.0 1024.6,283.8 1025.5,282.4" fill="none" stroke="#F0D0C2" stroke-width="8.5" stroke-linecap="round" stroke-linejoin="round"/>
<path d="M985.3,294.4 C987.8,293.3 992.5,288.4 996.6,289.7 C1000.7,291.0 1003.3,295.2 1003.9,300.0 C1004.6,304.8 1002.6,309.9 999.4,311.3 C996.3,312.7 992.6,305.3 989.8,306.4 C987.1,307.5 985.7,312.4 987.0,316.2 C988.3,320.1 993.6,322.0 995.5,323.6" fill="none" stroke="#DDAE9E" stroke-width="13.2" stroke-linecap="round" stroke-linejoin="round"/>
<path d="M985.3,294.4 C987.8,293.3 992.5,288.4 996.6,289.7 C1000.7,291.0 1003.3,295.2 1003.9,300.0 C1004.6,304.8 1002.6,309.9 999.4,311.3 C996.3,312.7 992.6,305.3 989.8,306.4 C987.1,307.5 985.7,312.4 987.0,316.2 C988.3,320.1 993.6,322.0 995.5,323.6" fill="none" stroke="#EBC6B7" stroke-width="12" stroke-linecap="round" stroke-linejoin="round"/>
<path d="M985.3,294.4 C987.8,293.3 992.5,288.4 996.6,289.7 C1000.7,291.0 1003.3,295.2 1003.9,300.0 C1004.6,304.8 1002.6,309.9 999.4,311.3 C996.3,312.7 992.6,305.3 989.8,306.4 C987.1,307.5 985.7,312.4 987.0,316.2 C988.3,320.1 993.6,322.0 995.5,323.6" fill="none" stroke="#F0D0C2" stroke-width="8.5" stroke-linecap="round" stroke-linejoin="round"/>
<path d="M1020.6,306.4 C1022.5,307.8 1025.6,312.7 1029.1,312.7 C1032.6,312.7 1035.9,309.0 1036.4,306.4 C1036.9,303.7 1032.4,302.0 1031.2,300.7" fill="none" stroke="#DDAE9E" stroke-width="13.2" stroke-linecap="round" stroke-linejoin="round"/>
<path d="M1020.6,306.4 C1022.5,307.8 1025.6,312.7 1029.1,312.7 C1032.6,312.7 1035.9,309.0 1036.4,306.4 C1036.9,303.7 1032.4,302.0 1031.2,300.7" fill="none" stroke="#EBC6B7" stroke-width="12" stroke-linecap="round" stroke-linejoin="round"/>
<path d="M1020.6,306.4 C1022.5,307.8 1025.6,312.7 1029.1,312.7 C1032.6,312.7 1035.9,309.0 1036.4,306.4 C1036.9,303.7 1032.4,302.0 1031.2,300.7" fill="none" stroke="#F0D0C2" stroke-width="8.5" stroke-linecap="round" stroke-linejoin="round"/>
<path d="M1007.2,313.4 C1008.7,314.7 1013.0,316.5 1013.8,319.4 C1014.6,322.2 1011.4,324.8 1010.7,326.4" fill="none" stroke="#DDAE9E" stroke-width="13.2" stroke-linecap="round" stroke-linejoin="round"/>
<path d="M1007.2,313.4 C1008.7,314.7 1013.0,316.5 1013.8,319.4 C1014.6,322.2 1011.4,324.8 1010.7,326.4" fill="none" stroke="#EBC6B7" stroke-width="12" stroke-linecap="round" stroke-linejoin="round"/>
<path d="M1007.2,313.4 C1008.7,314.7 1013.0,316.5 1013.8,319.4 C1014.6,322.2 1011.4,324.8 1010.7,326.4" fill="none" stroke="#F0D0C2" stroke-width="8.5" stroke-linecap="round" stroke-linejoin="round"/>
<path d="M1017.8,323.3 C1020.3,323.8 1023.7,326.3 1029.1,325.4 C1034.4,324.5 1037.6,323.3 1041.8,319.4 C1045.9,315.4 1046.4,310.4 1047.7,307.8" fill="none" stroke="#DDAE9E" stroke-width="13.2" stroke-linecap="round" stroke-linejoin="round"/>
<path d="M1017.8,323.3 C1020.3,323.8 1023.7,326.3 1029.1,325.4 C1034.4,324.5 1037.6,323.3 1041.8,319.4 C1045.9,315.4 1046.4,310.4 1047.7,307.8" fill="none" stroke="#EBC6B7" stroke-width="12" stroke-linecap="round" stroke-linejoin="round"/>
<path d="M1017.8,323.3 C1020.3,323.8 1023.7,326.3 1029.1,325.4 C1034.4,324.5 1037.6,323.3 1041.8,319.4 C1045.9,315.4 1046.4,310.4 1047.7,307.8" fill="none" stroke="#F0D0C2" stroke-width="8.5" stroke-linecap="round" stroke-linejoin="round"/>
<path d="M982.5,323.3 C984.4,324.4 987.3,327.8 990.9,328.3 C994.6,328.7 997.0,326.1 998.7,325.4" fill="none" stroke="#DDAE9E" stroke-width="13.2" stroke-linecap="round" stroke-linejoin="round"/>
<path d="M982.5,323.3 C984.4,324.4 987.3,327.8 990.9,328.3 C994.6,328.7 997.0,326.1 998.7,325.4" fill="none" stroke="#EBC6B7" stroke-width="12" stroke-linecap="round" stroke-linejoin="round"/>
<path d="M982.5,323.3 C984.4,324.4 987.3,327.8 990.9,328.3 C994.6,328.7 997.0,326.1 998.7,325.4" fill="none" stroke="#F0D0C2" stroke-width="8.5" stroke-linecap="round" stroke-linejoin="round"/>
<path d="M951.8,272.9 C951.6,269.9 951.0,264.3 950.8,258.0 C950.7,251.7 950.6,246.4 950.8,241.2 C951.1,236.0 949.2,232.2 952.3,232.1 C955.4,232.0 960.1,237.7 966.2,240.7 C972.3,243.7 975.8,245.2 983.0,247.2 C990.2,249.2 995.0,250.6 1002.2,250.8 C1009.4,251.0 1012.3,250.3 1019.0,248.4 C1025.7,246.5 1030.1,244.7 1035.8,241.2 C1041.6,237.7 1043.7,234.5 1047.8,231.1 C1051.9,227.8 1054.2,223.3 1056.5,224.4 C1058.8,225.5 1059.0,229.7 1059.3,236.4 C1059.7,243.1 1057.9,248.9 1058.4,258.0 C1058.9,267.1 1060.7,273.4 1061.7,282.0 C1062.8,290.7 1064.0,294.5 1063.7,301.2 C1063.3,307.9 1062.4,310.4 1059.8,315.6 C1057.2,320.8 1054.9,323.2 1050.7,327.1 C1046.5,331.1 1043.6,333.4 1038.7,335.3 C1033.8,337.2 1030.9,337.2 1026.2,336.7 C1021.6,336.3 1017.6,333.7 1015.4,332.9" fill="none" stroke="#DFA79D" stroke-width="14.5" stroke-linecap="round" stroke-linejoin="round"/>
<g fill="#DFA79D"><circle cx="947.3" cy="273.2" r="5.2"/><circle cx="956.4" cy="272.6" r="5.2"/><circle cx="946.3" cy="258.0" r="4.4"/><circle cx="955.4" cy="258.0" r="4.5"/><circle cx="946.3" cy="249.6" r="5.1"/><circle cx="955.4" cy="249.6" r="5.0"/><circle cx="946.3" cy="240.5" r="4.9"/><circle cx="955.3" cy="241.9" r="4.6"/><circle cx="954.7" cy="228.2" r="4.9"/><circle cx="949.9" cy="236.0" r="4.9"/><circle cx="961.6" cy="232.5" r="4.9"/><circle cx="956.8" cy="240.3" r="4.5"/><circle cx="967.8" cy="236.5" r="4.7"/><circle cx="964.6" cy="245.0" r="4.7"/><circle cx="976.2" cy="239.7" r="5.0"/><circle cx="973.0" cy="248.2" r="5.2"/><circle cx="983.8" cy="242.7" r="5.2"/><circle cx="982.2" cy="251.7" r="4.8"/><circle cx="993.4" cy="244.5" r="4.8"/><circle cx="991.8" cy="253.5" r="4.6"/><circle cx="1001.6" cy="246.3" r="4.4"/><circle cx="1002.9" cy="255.3" r="4.4"/><circle cx="1010.0" cy="245.1" r="4.8"/><circle cx="1011.3" cy="254.1" r="4.7"/><circle cx="1017.2" cy="244.2" r="4.7"/><circle cx="1020.8" cy="252.6" r="5.1"/><circle cx="1025.6" cy="240.6" r="4.8"/><circle cx="1029.2" cy="249.0" r="4.8"/><circle cx="1032.9" cy="237.7" r="4.6"/><circle cx="1038.7" cy="244.7" r="4.4"/><circle cx="1045.0" cy="227.5" r="4.7"/><circle cx="1050.6" cy="234.7" r="4.5"/><circle cx="1060.9" cy="223.3" r="4.8"/><circle cx="1052.0" cy="225.5" r="5.2"/><circle cx="1063.9" cy="236.6" r="4.9"/><circle cx="1054.8" cy="236.2" r="4.5"/><circle cx="1063.4" cy="247.4" r="5.1"/><circle cx="1054.3" cy="247.0" r="5.0"/><circle cx="1062.9" cy="257.4" r="5.0"/><circle cx="1053.9" cy="258.6" r="5.1"/><circle cx="1064.6" cy="269.4" r="5.0"/><circle cx="1055.5" cy="270.6" r="5.0"/><circle cx="1066.3" cy="281.6" r="4.7"/><circle cx="1057.2" cy="282.5" r="5.2"/><circle cx="1067.2" cy="291.2" r="5.2"/><circle cx="1058.2" cy="292.1" r="4.5"/><circle cx="1068.1" cy="302.4" r="5.0"/><circle cx="1059.3" cy="300.0" r="5.0"/><circle cx="1063.4" cy="318.4" r="4.8"/><circle cx="1056.2" cy="312.8" r="4.8"/><circle cx="1053.3" cy="330.9" r="4.8"/><circle cx="1048.1" cy="323.4" r="5.1"/><circle cx="1039.2" cy="339.8" r="4.8"/><circle cx="1038.2" cy="330.8" r="5.1"/><circle cx="1024.7" cy="341.0" r="4.7"/><circle cx="1027.7" cy="332.4" r="5.1"/></g>
<g stroke="#D09286" stroke-width="0.6" stroke-opacity="0.55"><line x1="957.8" y1="268.4" x2="945.3" y2="269.2"/><line x1="957.1" y1="253.9" x2="944.6" y2="253.9"/><line x1="957.1" y1="245.5" x2="944.6" y2="245.5"/><line x1="957.6" y1="238.1" x2="945.3" y2="236.2"/><line x1="952.5" y1="239.5" x2="959.0" y2="228.9"/><line x1="959.4" y1="243.9" x2="966.0" y2="233.3"/><line x1="967.8" y1="248.0" x2="972.3" y2="236.4"/><line x1="976.2" y1="251.3" x2="980.7" y2="239.6"/><line x1="985.9" y1="254.1" x2="988.2" y2="241.8"/><line x1="995.5" y1="255.9" x2="997.8" y2="243.6"/><line x1="1007.1" y1="256.4" x2="1005.4" y2="244.1"/><line x1="1015.5" y1="255.2" x2="1013.8" y2="242.9"/><line x1="1025.2" y1="252.5" x2="1020.3" y2="241.1"/><line x1="1033.6" y1="248.9" x2="1028.7" y2="237.5"/><line x1="1043.0" y1="243.4" x2="1034.9" y2="233.8"/><line x1="1054.9" y1="233.5" x2="1047.2" y2="223.7"/><line x1="1051.3" y1="229.8" x2="1063.5" y2="226.9"/><line x1="1052.9" y1="240.2" x2="1065.4" y2="240.8"/><line x1="1052.4" y1="251.0" x2="1064.9" y2="251.6"/><line x1="1052.8" y1="262.9" x2="1065.1" y2="261.2"/><line x1="1054.4" y1="274.9" x2="1066.8" y2="273.2"/><line x1="1055.9" y1="286.7" x2="1068.4" y2="285.5"/><line x1="1056.9" y1="296.3" x2="1069.3" y2="295.1"/><line x1="1056.6" y1="303.5" x2="1068.6" y2="306.8"/><line x1="1052.4" y1="314.9" x2="1062.2" y2="322.7"/><line x1="1043.8" y1="324.3" x2="1050.8" y2="334.6"/><line x1="1033.9" y1="329.6" x2="1035.4" y2="342.0"/><line x1="1024.5" y1="329.5" x2="1020.3" y2="341.3"/></g>
<path d="M959.0,235.2 C961.4,236.4 967.8,240.3 973.4,242.4 C979.0,244.5 986.2,246.9 992.6,247.9 C999.0,248.9 1005.4,249.3 1011.8,248.4 C1018.2,247.5 1025.0,245.6 1031.0,242.4 C1037.0,239.2 1045.0,231.4 1047.8,229.2" fill="none" stroke="#F0CFC6" stroke-width="0.7" stroke-opacity="0.9"/>
<path d="M1052.1,258.0 C1052.4,262.0 1053.1,274.0 1053.8,282.0 C1054.5,290.0 1056.8,299.2 1056.2,306.0 C1055.6,312.8 1051.2,320.0 1050.2,322.8" fill="none" stroke="#F0CFC6" stroke-width="0.7" stroke-opacity="0.9"/>
<path d="M999.5,330.7 C998.2,332.9 999.6,337.6 1000.2,340.8 C1000.8,344.0 1002.9,346.9 1003.3,349.7 C1003.7,352.5 1002.3,354.8 1002.7,357.4 C1003.1,359.9 1004.8,362.6 1005.9,365.0 C1007.0,367.4 1008.2,370.3 1009.1,371.6 C1010.0,372.9 1010.7,373.0 1011.4,373.0 C1012.1,373.0 1012.8,372.7 1013.5,371.4 C1014.2,370.1 1014.8,367.1 1015.4,365.0 C1016.0,362.9 1017.2,360.7 1017.3,358.6 C1017.4,356.5 1015.9,354.4 1016.1,352.3 C1016.3,350.2 1018.2,348.2 1018.6,345.9 C1019.0,343.6 1019.0,341.1 1018.8,338.3 C1018.6,335.6 1019.1,331.2 1017.3,329.4 C1015.5,327.6 1011.0,327.3 1008.0,327.5 C1005.0,327.7 1000.8,328.5 999.5,330.7 Z" fill="#DFA79D"/>
<path d="M1006.0,335.0 C1006.2,337.2 1006.7,343.8 1007.0,348.0 C1007.3,352.2 1007.5,356.7 1008.0,360.0 C1008.5,363.3 1009.7,366.7 1010.0,368.0" fill="none" stroke="#CE958B" stroke-width="0.6" stroke-opacity="0.6"/>
<circle cx="1063.1" cy="299.5" r="8.6" fill="#DFA79D" stroke="#CF978D" stroke-width="0.6" stroke-opacity="0.7"/><circle cx="1061.4" cy="311.0" r="8.2" fill="#DFA79D" stroke="#CF978D" stroke-width="0.6" stroke-opacity="0.7"/><circle cx="1058.5" cy="321.0" r="8.0" fill="#DFA79D" stroke="#CF978D" stroke-width="0.6" stroke-opacity="0.7"/><circle cx="1053.8" cy="328.6" r="9.8" fill="#DFA79D" stroke="#CF978D" stroke-width="0.6" stroke-opacity="0.7"/><circle cx="1038.9" cy="337.4" r="8.6" fill="#DFA79D" stroke="#CF978D" stroke-width="0.6" stroke-opacity="0.7"/><circle cx="1025.2" cy="337.0" r="6.8" fill="#DFA79D" stroke="#CF978D" stroke-width="0.6" stroke-opacity="0.7"/>
<path d="M977.7,328.1 C978.3,329.0 980.6,331.5 981.1,333.6 C981.6,335.7 980.7,339.6 980.6,340.8" fill="none" stroke="#E5B4AA" stroke-width="2.6" stroke-linecap="round"/>
<circle cx="938.3" cy="307.4" r="41.4" fill="#FBF0F0" stroke="#8E2A2E" stroke-width="2.0"/>
<clipPath id="mbClip"><circle cx="938.3" cy="307.4" r="40.4"/></clipPath>
<g clip-path="url(#mbClip)"><rect x="917.4" y="274.3" width="14.0" height="5.9" rx="3.0" transform="rotate(70 924.4 277.3)" fill="#C25670" stroke="#D99AA8" stroke-width="0.9"/><rect x="939.4" y="272.2" width="12.9" height="5.9" rx="3.0" transform="rotate(-75 945.8 275.1)" fill="#C25670" stroke="#D99AA8" stroke-width="0.9"/><rect x="947.7" y="287.5" width="16.1" height="6.4" rx="3.2" transform="rotate(-72 955.8 290.7)" fill="#C25670" stroke="#D99AA8" stroke-width="0.9"/><rect x="899.4" y="291.3" width="13.4" height="5.4" rx="2.7" transform="rotate(55 906.1 293.9)" fill="#C25670" stroke="#D99AA8" stroke-width="0.9"/><rect x="923.3" y="298.8" width="16.6" height="6.4" rx="3.2" transform="rotate(55 931.6 302.0)" fill="#C25670" stroke="#D99AA8" stroke-width="0.9"/><rect x="966.5" y="300.1" width="13.4" height="6.4" rx="3.2" transform="rotate(35 973.2 303.3)" fill="#C25670" stroke="#D99AA8" stroke-width="0.9"/><rect x="905.8" y="321.8" width="16.6" height="5.9" rx="3.0" transform="rotate(0 914.2 324.8)" fill="#C25670" stroke="#D99AA8" stroke-width="0.9"/><rect x="932.7" y="322.1" width="16.6" height="6.4" rx="3.2" transform="rotate(-42 941.0 325.3)" fill="#C25670" stroke="#D99AA8" stroke-width="0.9"/><rect x="959.8" y="329.4" width="13.4" height="5.4" rx="2.7" transform="rotate(5 966.5 332.0)" fill="#C25670" stroke="#D99AA8" stroke-width="0.9"/><circle cx="935.6" cy="273.0" r="1.6" fill="#C25670"/><circle cx="934.3" cy="287.8" r="1.6" fill="#C25670"/><circle cx="968.6" cy="287.8" r="1.6" fill="#C25670"/><circle cx="947.7" cy="305.2" r="1.6" fill="#C25670"/><circle cx="915.5" cy="312.7" r="1.6" fill="#C25670"/><circle cx="953.1" cy="326.7" r="1.6" fill="#C25670"/><circle cx="928.1" cy="330.7" r="1.6" fill="#C25670"/><path d="M-3.6,0 Q0,-2.2 3.6,-0.4 Q0,1.2 -3.6,0 Z" transform="translate(914.2,285.3) rotate(40)" fill="#C25670"/><path d="M-3.6,0 Q0,-2.2 3.6,-0.4 Q0,1.2 -3.6,0 Z" transform="translate(945.0,289.9) rotate(-60)" fill="#C25670"/><path d="M-3.6,0 Q0,-2.2 3.6,-0.4 Q0,1.2 -3.6,0 Z" transform="translate(916.3,302.5) rotate(-55)" fill="#C25670"/><path d="M-3.6,0 Q0,-2.2 3.6,-0.4 Q0,1.2 -3.6,0 Z" transform="translate(904.0,308.7) rotate(-80)" fill="#C25670"/><path d="M-3.6,0 Q0,-2.2 3.6,-0.4 Q0,1.2 -3.6,0 Z" transform="translate(930.3,315.4) rotate(10)" fill="#C25670"/><path d="M-3.6,0 Q0,-2.2 3.6,-0.4 Q0,1.2 -3.6,0 Z" transform="translate(959.2,315.4) rotate(25)" fill="#C25670"/><path d="M-3.6,0 Q0,-2.2 3.6,-0.4 Q0,1.2 -3.6,0 Z" transform="translate(971.9,315.9) rotate(75)" fill="#C25670"/><path d="M-3.6,0 Q0,-2.2 3.6,-0.4 Q0,1.2 -3.6,0 Z" transform="translate(918.2,338.2) rotate(55)" fill="#C25670"/></g>
<path d="M924.1,346.3 L951.2,346.3 L949.6,373.1 Q937.9,375.5 926.2,373.1 Z" fill="#7A6228"/>
<rect x="924.1" y="346.3" width="27.1" height="4.6" fill="#DAD9CE"/>
<rect x="932.9" y="350.8" width="11.0" height="22.0" fill="#8A7134" fill-opacity="0.7"/>
<rect x="921.7" y="335.5" width="32.2" height="10.7" rx="2" fill="#3F74C8"/>
<rect x="922.2" y="335.5" width="31.2" height="3.2" rx="1.5" fill="#5C8FE0"/>
<!-- petri dish -->
<ellipse cx="118.4" cy="617.8" rx="62.6" ry="64.3" fill="#fdfdfd" stroke="#b9b9b9" stroke-width="0.9"/>
<ellipse cx="118.5" cy="617.3" rx="61.4" ry="62.6" fill="none" stroke="#d4d4d4" stroke-width="0.8"/>
<circle cx="118.6" cy="615.0" r="60.9" fill="#C8B052"/>
<circle cx="118.6" cy="615.6" r="60.6" fill="#C9B594"/>
<ellipse cx="118.5" cy="616" rx="62.3" ry="62.6" fill="none" stroke="#b5b5b5" stroke-width="0.8"/>
<path d="M74.7,597.5 Q91.5,573.7 129.1,572.1" fill="none" stroke="#D8C8AA" stroke-opacity="0.5" stroke-width="3.6" stroke-linecap="round"/>
<g fill="#FBF4E8"><circle cx="118.2" cy="588.6" r="1.98"/><circle cx="130.1" cy="585.6" r="1.98"/><circle cx="146.9" cy="590.5" r="2.37"/><circle cx="121.6" cy="575.7" r="1.78"/><circle cx="118.8" cy="596.1" r="1.58"/><circle cx="121.6" cy="594.5" r="1.58"/><circle cx="137.0" cy="607.9" r="1.58"/><circle cx="140.0" cy="605.4" r="1.58"/><circle cx="156.8" cy="609.3" r="1.58"/><circle cx="159.7" cy="610.3" r="1.58"/><circle cx="130.1" cy="619.6" r="1.98"/><circle cx="152.2" cy="620.8" r="2.57"/><circle cx="170.2" cy="621.6" r="1.38"/><circle cx="112.9" cy="629.7" r="1.58"/><circle cx="137.6" cy="629.7" r="1.38"/><circle cx="140.4" cy="629.3" r="1.38"/><circle cx="146.9" cy="633.1" r="1.38"/><circle cx="142.0" cy="637.4" r="1.38"/><circle cx="148.9" cy="638.2" r="1.38"/><circle cx="164.7" cy="629.1" r="1.58"/><circle cx="167.7" cy="628.3" r="1.58"/><circle cx="158.4" cy="635.0" r="1.19"/><circle cx="160.7" cy="634.6" r="1.19"/><circle cx="80.3" cy="584.6" r="1.19"/><circle cx="82.6" cy="583.6" r="1.19"/><circle cx="108.9" cy="637.0" r="1.19"/><circle cx="111.3" cy="637.4" r="1.19"/><circle cx="125.1" cy="636.0" r="0.99"/><circle cx="127.7" cy="635.6" r="0.99"/><circle cx="118.2" cy="614.3" r="0.99"/><circle cx="118.2" cy="617.2" r="0.99"/><circle cx="95.5" cy="600.0" r="0.99"/><circle cx="96.9" cy="625.7" r="0.79"/><circle cx="90.5" cy="611.3" r="0.79"/><circle cx="85.6" cy="624.7" r="0.79"/><circle cx="136.0" cy="661.1" r="0.69"/><circle cx="139.0" cy="649.9" r="0.69"/><circle cx="89.3" cy="587.3" r="0.73"/><circle cx="89.9" cy="588.3" r="0.73"/><circle cx="91.0" cy="590.0" r="0.81"/><circle cx="91.1" cy="590.8" r="0.70"/><circle cx="91.6" cy="591.6" r="0.68"/><circle cx="92.8" cy="593.2" r="0.82"/><circle cx="93.2" cy="593.8" r="0.71"/><circle cx="93.7" cy="595.3" r="0.84"/><circle cx="94.5" cy="595.9" r="0.78"/><circle cx="94.9" cy="597.3" r="0.67"/><circle cx="95.3" cy="598.0" r="0.85"/><circle cx="96.2" cy="599.5" r="0.70"/><circle cx="97.2" cy="606.4" r="0.84"/><circle cx="97.8" cy="607.7" r="0.73"/><circle cx="98.3" cy="608.9" r="0.67"/><circle cx="98.8" cy="610.6" r="0.64"/><circle cx="99.3" cy="611.7" r="0.70"/><circle cx="100.4" cy="612.9" r="0.71"/><circle cx="101.4" cy="614.0" r="0.73"/><circle cx="101.6" cy="617.3" r="0.70"/><circle cx="102.5" cy="618.6" r="0.71"/><circle cx="103.4" cy="619.9" r="0.66"/><circle cx="103.8" cy="620.6" r="0.81"/><circle cx="82.7" cy="601.6" r="0.71"/><circle cx="82.9" cy="603.2" r="0.64"/><circle cx="83.9" cy="604.9" r="0.86"/><circle cx="84.5" cy="606.3" r="0.64"/><circle cx="84.7" cy="607.7" r="0.82"/><circle cx="85.4" cy="609.1" r="0.78"/><circle cx="86.3" cy="610.0" r="0.68"/><circle cx="86.6" cy="611.2" r="0.72"/><circle cx="87.5" cy="612.7" r="0.64"/><circle cx="86.2" cy="615.0" r="0.82"/><circle cx="87.0" cy="616.5" r="0.66"/><circle cx="88.1" cy="618.1" r="0.68"/><circle cx="87.9" cy="619.2" r="0.67"/><circle cx="88.9" cy="620.7" r="0.64"/><circle cx="89.3" cy="622.2" r="0.87"/><circle cx="89.6" cy="623.8" r="0.82"/><circle cx="90.4" cy="625.6" r="0.75"/><circle cx="90.8" cy="626.6" r="0.64"/><circle cx="91.5" cy="627.9" r="0.84"/><circle cx="93.4" cy="632.1" r="0.64"/><circle cx="93.6" cy="633.1" r="0.68"/><circle cx="94.2" cy="634.9" r="0.67"/><circle cx="94.8" cy="636.2" r="0.77"/><circle cx="96.2" cy="637.0" r="0.85"/><circle cx="96.6" cy="638.6" r="0.81"/><circle cx="76.7" cy="615.9" r="0.68"/><circle cx="77.7" cy="618.0" r="0.85"/><circle cx="78.0" cy="619.2" r="0.82"/><circle cx="78.9" cy="620.7" r="0.76"/><circle cx="79.6" cy="622.0" r="0.70"/><circle cx="80.6" cy="623.7" r="0.65"/><circle cx="81.3" cy="625.1" r="0.79"/><circle cx="81.3" cy="626.4" r="0.66"/><circle cx="83.0" cy="628.2" r="0.65"/><circle cx="83.2" cy="629.4" r="0.77"/><circle cx="84.4" cy="630.8" r="0.68"/><circle cx="84.6" cy="632.0" r="0.64"/><circle cx="86.1" cy="632.6" r="0.82"/><circle cx="86.8" cy="634.3" r="0.76"/><circle cx="87.9" cy="638.7" r="0.79"/><circle cx="88.3" cy="640.8" r="0.82"/><circle cx="89.2" cy="642.0" r="0.64"/><circle cx="89.7" cy="643.6" r="0.75"/><circle cx="91.2" cy="645.2" r="0.67"/><circle cx="91.6" cy="646.8" r="0.76"/><circle cx="92.2" cy="648.4" r="0.83"/><circle cx="93.1" cy="649.7" r="0.72"/><circle cx="94.5" cy="651.0" r="0.69"/><circle cx="95.1" cy="653.0" r="0.66"/><circle cx="95.6" cy="654.3" r="0.84"/><circle cx="96.8" cy="655.7" r="0.84"/><circle cx="97.8" cy="656.9" r="0.84"/><circle cx="98.2" cy="658.6" r="0.83"/><circle cx="102.3" cy="652.1" r="0.67"/><circle cx="105.0" cy="650.6" r="0.67"/><circle cx="107.0" cy="649.7" r="0.76"/><circle cx="109.6" cy="649.0" r="0.63"/><circle cx="112.1" cy="647.9" r="0.75"/><circle cx="114.4" cy="647.5" r="0.65"/><circle cx="116.0" cy="647.4" r="0.72"/><circle cx="118.4" cy="647.1" r="0.78"/><circle cx="120.3" cy="646.4" r="0.71"/><circle cx="104.7" cy="658.3" r="0.85"/><circle cx="106.0" cy="658.0" r="0.82"/><circle cx="108.1" cy="657.0" r="0.67"/><circle cx="110.0" cy="656.3" r="0.79"/><circle cx="111.3" cy="655.4" r="0.67"/><circle cx="113.7" cy="654.8" r="0.85"/><circle cx="115.2" cy="654.5" r="0.72"/><circle cx="118.3" cy="652.5" r="0.73"/><circle cx="120.1" cy="652.1" r="0.79"/><circle cx="121.2" cy="651.7" r="0.64"/><circle cx="122.6" cy="651.8" r="0.83"/><circle cx="124.8" cy="651.2" r="0.86"/><circle cx="125.9" cy="650.5" r="0.75"/><circle cx="129.2" cy="648.8" r="0.81"/><circle cx="131.1" cy="647.9" r="0.79"/><circle cx="132.4" cy="648.0" r="0.78"/><circle cx="134.1" cy="647.4" r="0.85"/><circle cx="135.4" cy="647.3" r="0.85"/><circle cx="137.2" cy="646.7" r="0.69"/><circle cx="139.8" cy="646.0" r="0.87"/><circle cx="141.8" cy="645.3" r="0.73"/><circle cx="143.2" cy="644.6" r="0.73"/><circle cx="144.0" cy="644.0" r="0.76"/><circle cx="146.1" cy="643.8" r="0.72"/><circle cx="147.7" cy="643.2" r="0.67"/><circle cx="148.5" cy="642.9" r="0.87"/><circle cx="124.5" cy="656.9" r="0.71"/><circle cx="125.8" cy="657.1" r="0.69"/><circle cx="128.4" cy="658.1" r="0.82"/><circle cx="131.8" cy="655.6" r="0.70"/><circle cx="134.1" cy="655.3" r="0.82"/><circle cx="135.7" cy="655.3" r="0.86"/><circle cx="137.1" cy="655.1" r="0.67"/><circle cx="138.7" cy="654.4" r="0.71"/><circle cx="141.7" cy="652.9" r="0.87"/><circle cx="143.4" cy="653.4" r="0.80"/><circle cx="145.3" cy="653.0" r="0.86"/><circle cx="147.0" cy="652.9" r="0.77"/><circle cx="148.4" cy="652.8" r="0.76"/><circle cx="149.9" cy="652.2" r="0.83"/></g>
<g transform="translate(247.4,441.5) rotate(134.10)">
<defs><linearGradient id="syBc" x1="0" y1="0" x2="0" y2="1"><stop offset="0" stop-color="#f4f4f4"/><stop offset="0.45" stop-color="#e2e2e2"/><stop offset="1" stop-color="#b4b4b4"/></linearGradient><linearGradient id="syLc" x1="0" y1="0" x2="0" y2="1"><stop offset="0" stop-color="#dce8f7"/><stop offset="0.5" stop-color="#c0d4ef"/><stop offset="1" stop-color="#a6c0e3"/></linearGradient></defs>
<line x1="113.7" y1="0" x2="134.4" y2="0" stroke="#666" stroke-width="0.94"/>
<polygon points="1,-2.74 42.2,-3.80 42.2,3.80 1,2.74" fill="url(#syBc)" stroke="#a9a9a9" stroke-width="0.5"/>
<ellipse cx="0" cy="0" rx="2.20" ry="7.80" fill="#ececec" stroke="#a5a5a5" stroke-width="0.7"/>
<rect x="40.2" y="-5.50" width="32.5" height="11.00" fill="url(#syBc)" stroke="#a0a0a0" stroke-width="0.5"/>
<rect x="72.7" y="-5.50" width="32.5" height="11.00" rx="1.3" fill="url(#syLc)" stroke="#8fa5c5" stroke-width="0.5"/>
<rect x="70.9" y="-5.20" width="2.2" height="10.40" fill="#3c3c3c"/>
<rect x="67.8" y="-5.00" width="3.1" height="10.00" fill="#8d8d8d"/>
<line x1="44.8" y1="-0.55" x2="44.8" y2="4.40" stroke="#fff" stroke-opacity="0.55" stroke-width="0.5"/><line x1="49.5" y1="-0.55" x2="49.5" y2="4.40" stroke="#fff" stroke-opacity="0.55" stroke-width="0.5"/><line x1="54.1" y1="-0.55" x2="54.1" y2="4.40" stroke="#fff" stroke-opacity="0.55" stroke-width="0.5"/><line x1="58.8" y1="-0.55" x2="58.8" y2="4.40" stroke="#fff" stroke-opacity="0.55" stroke-width="0.5"/><line x1="63.4" y1="-0.55" x2="63.4" y2="4.40" stroke="#fff" stroke-opacity="0.55" stroke-width="0.5"/><line x1="68.1" y1="-0.55" x2="68.1" y2="4.40" stroke="#fff" stroke-opacity="0.55" stroke-width="0.5"/><line x1="72.7" y1="-0.55" x2="72.7" y2="4.40" stroke="#fff" stroke-opacity="0.55" stroke-width="0.5"/><line x1="77.3" y1="-0.55" x2="77.3" y2="4.40" stroke="#fff" stroke-opacity="0.55" stroke-width="0.5"/><line x1="82.0" y1="-0.55" x2="82.0" y2="4.40" stroke="#fff" stroke-opacity="0.55" stroke-width="0.5"/><line x1="86.6" y1="-0.55" x2="86.6" y2="4.40" stroke="#fff" stroke-opacity="0.55" stroke-width="0.5"/><line x1="91.3" y1="-0.55" x2="91.3" y2="4.40" stroke="#fff" stroke-opacity="0.55" stroke-width="0.5"/><line x1="95.9" y1="-0.55" x2="95.9" y2="4.40" stroke="#fff" stroke-opacity="0.55" stroke-width="0.5"/><line x1="100.6" y1="-0.55" x2="100.6" y2="4.40" stroke="#fff" stroke-opacity="0.55" stroke-width="0.5"/>
<ellipse cx="40.2" cy="0" rx="2.20" ry="13.75" fill="#f3f3f3" stroke="#a5a5a5" stroke-width="0.7"/>
<rect x="39.1" y="-5.10" width="5.5" height="10.20" fill="#e0e0e0"/>
<polygon points="105.2,-3.41 114.7,-1.65 114.7,1.65 105.2,3.41" fill="#5FA39A" stroke="#437f78" stroke-width="0.4"/>
</g>
<path d="M177.0,492.5 Q168.0,492.7 163.2,493.6 Q158.3,494.4 153.0,496.7 Q147.7,498.9 143.0,501.9 Q138.4,504.8 134.2,509.4 Q130.1,513.9 126.9,520.0 Q123.8,526.2 121.7,532.2 Q119.6,538.1 118.2,544.1 Q116.7,550.1 115.5,555.9 Q114.3,561.7 113.4,567.2 Q112.4,572.7 112.1,575.0 L111.8,577.3 L115.4,577.7 Q116.0,573.3 116.8,567.8 Q117.7,562.3 118.8,556.5 Q119.9,550.7 121.1,544.8 Q122.4,538.9 124.3,533.0 Q126.2,527.2 129.1,521.2 Q131.9,515.1 135.8,510.6 Q139.6,506.2 144.0,503.1 Q148.3,500.1 153.5,497.7 Q158.7,495.4 163.3,494.3 Q168.0,493.3 172.5,493.0 L177.0,492.7 Z" fill="#1d1d1d"/>
<polygon points="110.3,591.5 104.2,574.9 121.3,576.9" fill="#1d1d1d"/>
<!-- stacked bacteria with plasmids -->
<g transform="translate(339.9,422.4)">
<rect x="0" y="0" width="164.4" height="64.3" rx="32.1" fill="#94B5E1" stroke="#3D6CB5" stroke-width="0.9"/>
<rect x="1.7" y="1.7" width="161.0" height="60.9" rx="30.4" fill="none" stroke="#C9DBF3" stroke-width="0.9"/>
<rect x="3.5" y="3.5" width="157.4" height="57.3" rx="28.6" fill="none" stroke="#C9DBF3" stroke-width="0.7"/>
<rect x="5.4" y="5.4" width="153.6" height="53.5" rx="26.8" fill="#F8FAFE" stroke="#3D6CB5" stroke-width="0.9"/>
<circle cx="38.3" cy="31.7" r="17.3" fill="none" stroke="#9C9CA4" stroke-width="5"/>
<path d="M36.79,14.47 A17.3,17.3 0 0 1 55.47,29.59" fill="none" stroke="#3F6FDD" stroke-width="6"/>
<polygon points="60.33,28.99 50.61,30.19 56.06,34.36" fill="#3F6FDD"/>
<path d="M74.1,31.6 C74.4,29.8 75.1,28.0 77.9,26.7 C80.6,25.4 85.0,26.8 87.7,25.2 C90.5,23.6 89.0,20.5 91.4,18.5 C93.9,16.6 96.6,15.6 100.1,15.3 C103.6,15.1 106.5,15.7 108.7,17.3 C111.0,18.9 109.2,22.5 111.2,23.5 C113.2,24.5 115.8,21.7 118.6,22.2 C121.5,22.7 123.1,25.1 125.6,26.0 C128.0,26.8 128.9,25.6 131.0,26.7 C133.1,27.8 135.7,29.8 135.9,31.6 C136.2,33.5 134.7,34.8 132.2,35.8 C129.8,36.9 126.3,37.6 123.6,37.1 C120.9,36.6 121.1,34.8 118.6,33.4 C116.2,31.9 113.7,31.1 111.2,29.7 C108.7,28.2 108.5,26.9 106.3,26.0 C104.1,25.0 102.1,24.0 100.1,24.7 C98.1,25.5 96.4,27.9 96.4,29.7 C96.4,31.4 97.9,32.9 100.1,33.4 C102.3,33.9 104.8,33.4 107.5,32.1 C110.2,30.9 111.7,27.6 113.7,27.2 C115.7,26.8 117.4,28.4 117.4,30.2 C117.4,31.9 116.4,34.2 113.7,35.8 C111.0,37.5 107.8,38.1 103.8,38.3 C99.9,38.6 96.9,38.3 93.9,37.1 C91.0,35.8 91.2,33.6 89.0,32.1 C86.8,30.6 84.8,29.2 82.8,29.7 C80.8,30.2 80.3,33.4 79.1,34.6 C77.9,35.8 77.6,36.4 76.6,35.8 C75.6,35.2 73.9,33.5 74.1,31.6 Z" fill="none" stroke="#3A5CAB" stroke-width="1.45" stroke-linejoin="round"/>
</g>
<g transform="translate(364.2,455.8)">
<rect x="0" y="0" width="164.4" height="64.3" rx="32.1" fill="#94B5E1" stroke="#3D6CB5" stroke-width="0.9"/>
<rect x="1.7" y="1.7" width="161.0" height="60.9" rx="30.4" fill="none" stroke="#C9DBF3" stroke-width="0.9"/>
<rect x="3.5" y="3.5" width="157.4" height="57.3" rx="28.6" fill="none" stroke="#C9DBF3" stroke-width="0.7"/>
<rect x="5.4" y="5.4" width="153.6" height="53.5" rx="26.8" fill="#F8FAFE" stroke="#3D6CB5" stroke-width="0.9"/>
<circle cx="38.3" cy="31.7" r="17.3" fill="none" stroke="#9C9CA4" stroke-width="5"/>
<path d="M36.79,14.47 A17.3,17.3 0 0 1 55.47,29.59" fill="none" stroke="#B0388E" stroke-width="6"/>
<polygon points="60.33,28.99 50.61,30.19 56.06,34.36" fill="#B0388E"/>
<path d="M74.1,31.6 C74.4,29.8 75.1,28.0 77.9,26.7 C80.6,25.4 85.0,26.8 87.7,25.2 C90.5,23.6 89.0,20.5 91.4,18.5 C93.9,16.6 96.6,15.6 100.1,15.3 C103.6,15.1 106.5,15.7 108.7,17.3 C111.0,18.9 109.2,22.5 111.2,23.5 C113.2,24.5 115.8,21.7 118.6,22.2 C121.5,22.7 123.1,25.1 125.6,26.0 C128.0,26.8 128.9,25.6 131.0,26.7 C133.1,27.8 135.7,29.8 135.9,31.6 C136.2,33.5 134.7,34.8 132.2,35.8 C129.8,36.9 126.3,37.6 123.6,37.1 C120.9,36.6 121.1,34.8 118.6,33.4 C116.2,31.9 113.7,31.1 111.2,29.7 C108.7,28.2 108.5,26.9 106.3,26.0 C104.1,25.0 102.1,24.0 100.1,24.7 C98.1,25.5 96.4,27.9 96.4,29.7 C96.4,31.4 97.9,32.9 100.1,33.4 C102.3,33.9 104.8,33.4 107.5,32.1 C110.2,30.9 111.7,27.6 113.7,27.2 C115.7,26.8 117.4,28.4 117.4,30.2 C117.4,31.9 116.4,34.2 113.7,35.8 C111.0,37.5 107.8,38.1 103.8,38.3 C99.9,38.6 96.9,38.3 93.9,37.1 C91.0,35.8 91.2,33.6 89.0,32.1 C86.8,30.6 84.8,29.2 82.8,29.7 C80.8,30.2 80.3,33.4 79.1,34.6 C77.9,35.8 77.6,36.4 76.6,35.8 C75.6,35.2 73.9,33.5 74.1,31.6 Z" fill="none" stroke="#3A5CAB" stroke-width="1.45" stroke-linejoin="round"/>
</g>
<g transform="translate(388.5,489.1)">
<rect x="0" y="0" width="164.4" height="64.3" rx="32.1" fill="#94B5E1" stroke="#3D6CB5" stroke-width="0.9"/>
<rect x="1.7" y="1.7" width="161.0" height="60.9" rx="30.4" fill="none" stroke="#C9DBF3" stroke-width="0.9"/>
<rect x="3.5" y="3.5" width="157.4" height="57.3" rx="28.6" fill="none" stroke="#C9DBF3" stroke-width="0.7"/>
<rect x="5.4" y="5.4" width="153.6" height="53.5" rx="26.8" fill="#F8FAFE" stroke="#3D6CB5" stroke-width="0.9"/>
<circle cx="38.3" cy="31.7" r="17.3" fill="none" stroke="#9C9CA4" stroke-width="5"/>
<path d="M36.79,14.47 A17.3,17.3 0 0 1 55.47,29.59" fill="none" stroke="#B86200" stroke-width="6"/>
<polygon points="60.33,28.99 50.61,30.19 56.06,34.36" fill="#B86200"/>
<path d="M74.1,31.6 C74.4,29.8 75.1,28.0 77.9,26.7 C80.6,25.4 85.0,26.8 87.7,25.2 C90.5,23.6 89.0,20.5 91.4,18.5 C93.9,16.6 96.6,15.6 100.1,15.3 C103.6,15.1 106.5,15.7 108.7,17.3 C111.0,18.9 109.2,22.5 111.2,23.5 C113.2,24.5 115.8,21.7 118.6,22.2 C121.5,22.7 123.1,25.1 125.6,26.0 C128.0,26.8 128.9,25.6 131.0,26.7 C133.1,27.8 135.7,29.8 135.9,31.6 C136.2,33.5 134.7,34.8 132.2,35.8 C129.8,36.9 126.3,37.6 123.6,37.1 C120.9,36.6 121.1,34.8 118.6,33.4 C116.2,31.9 113.7,31.1 111.2,29.7 C108.7,28.2 108.5,26.9 106.3,26.0 C104.1,25.0 102.1,24.0 100.1,24.7 C98.1,25.5 96.4,27.9 96.4,29.7 C96.4,31.4 97.9,32.9 100.1,33.4 C102.3,33.9 104.8,33.4 107.5,32.1 C110.2,30.9 111.7,27.6 113.7,27.2 C115.7,26.8 117.4,28.4 117.4,30.2 C117.4,31.9 116.4,34.2 113.7,35.8 C111.0,37.5 107.8,38.1 103.8,38.3 C99.9,38.6 96.9,38.3 93.9,37.1 C91.0,35.8 91.2,33.6 89.0,32.1 C86.8,30.6 84.8,29.2 82.8,29.7 C80.8,30.2 80.3,33.4 79.1,34.6 C77.9,35.8 77.6,36.4 76.6,35.8 C75.6,35.2 73.9,33.5 74.1,31.6 Z" fill="none" stroke="#3A5CAB" stroke-width="1.45" stroke-linejoin="round"/>
</g>
<g transform="translate(412.8,522.5)">
<rect x="0" y="0" width="164.4" height="64.3" rx="32.1" fill="#94B5E1" stroke="#3D6CB5" stroke-width="0.9"/>
<rect x="1.7" y="1.7" width="161.0" height="60.9" rx="30.4" fill="none" stroke="#C9DBF3" stroke-width="0.9"/>
<rect x="3.5" y="3.5" width="157.4" height="57.3" rx="28.6" fill="none" stroke="#C9DBF3" stroke-width="0.7"/>
<rect x="5.4" y="5.4" width="153.6" height="53.5" rx="26.8" fill="#F8FAFE" stroke="#3D6CB5" stroke-width="0.9"/>
<circle cx="38.3" cy="31.7" r="17.3" fill="none" stroke="#9C9CA4" stroke-width="5"/>
<path d="M36.79,14.47 A17.3,17.3 0 0 1 55.47,29.59" fill="none" stroke="#4A8A14" stroke-width="6"/>
<polygon points="60.33,28.99 50.61,30.19 56.06,34.36" fill="#4A8A14"/>
<path d="M75.4,30.9 C76.6,28.8 77.4,26.0 80.3,23.5 C83.3,21.0 86.3,20.3 90.2,18.5 C94.2,16.8 96.4,15.1 100.1,14.8 C103.8,14.6 106.3,15.6 108.7,17.3 C111.2,19.0 110.5,21.5 112.5,23.5 C114.4,25.5 115.7,26.8 118.6,27.2 C121.6,27.6 124.1,25.2 127.3,25.5 C130.5,25.7 132.7,26.1 134.7,28.4 C136.7,30.7 137.7,33.6 137.2,37.1 C136.7,40.5 134.9,43.4 132.2,45.7 C129.5,48.0 126.8,48.9 123.6,48.7 C120.4,48.4 117.9,46.6 116.2,44.5 C114.4,42.4 113.9,40.3 114.9,38.3 C115.9,36.3 118.6,34.8 121.1,34.6 C123.6,34.4 125.8,35.6 127.3,37.1 C128.8,38.6 129.3,40.5 128.5,42.0 C127.8,43.5 126.8,44.1 123.6,44.5 C120.4,44.8 116.7,44.7 112.5,43.7 C108.3,42.8 105.5,41.6 102.6,39.5 C99.6,37.5 97.9,35.8 97.6,33.4 C97.4,30.9 99.1,29.3 101.3,27.2 C103.6,25.1 105.8,23.5 108.7,23.0 C111.7,22.5 114.2,23.5 116.2,24.7 C118.1,25.9 119.1,27.7 118.6,28.9 C118.1,30.2 116.4,30.9 113.7,30.9 C111.0,30.9 108.0,29.0 105.0,28.9 C102.1,28.8 100.8,28.8 98.9,30.4 C96.9,32.0 96.1,34.8 95.2,37.1 C94.2,39.4 95.4,40.7 93.9,42.0 C92.4,43.4 90.1,44.1 87.7,43.7 C85.4,43.4 83.4,42.1 82.3,40.3 C81.2,38.5 81.2,36.4 82.3,34.6 C83.4,32.8 85.9,31.2 87.7,31.4 C89.6,31.5 91.2,33.6 91.4,35.3 C91.7,37.1 90.7,39.2 89.0,40.3 C87.2,41.4 85.1,41.2 82.8,40.8 C80.5,40.4 79.1,39.7 77.4,38.3 C75.6,36.9 74.5,35.3 74.1,33.9 C73.8,32.4 74.1,33.0 75.4,30.9 Z" fill="none" stroke="#3A5CAB" stroke-width="1.45" stroke-linejoin="round"/>
</g>
<!-- sequence reads -->
<rect x="476.2" y="586.5" width="11.4" height="114" fill="#CFFBFB"/>
<g font-size="14.3" fill="#C0521A" text-anchor="middle" id="seq">
<text x="368.9" y="601.2" fill="#C0521A">C</text><text x="381.5" y="601.2" fill="#C0521A">T</text><text x="394.0" y="601.2" fill="#C0521A">T</text><text x="406.6" y="601.2" fill="#C0521A">C</text><text x="419.1" y="601.2" fill="#C0521A">A</text><text x="431.7" y="601.2" fill="#C0521A">G</text><text x="444.2" y="601.2" fill="#C0521A">C</text><text x="456.8" y="601.2" fill="#C0521A">A</text><text x="469.3" y="601.2" fill="#C0521A">T</text><text x="481.9" y="601.2" fill="#C0521A">A</text><text x="494.4" y="601.2" fill="#C0521A">T</text><text x="507.0" y="601.2" fill="#C0521A">G</text><text x="519.5" y="601.2" fill="#C0521A">C</text><text x="532.1" y="601.2" fill="#C0521A">A</text><text x="544.6" y="601.2" fill="#C0521A">G</text>
<text x="469.3" y="618.7" fill="#C0521A">T</text><text x="481.9" y="618.7" fill="#C0521A">A</text><text x="494.4" y="618.7" fill="#C0521A">T</text><text x="507.0" y="618.7" fill="#C0521A">G</text><text x="519.5" y="618.7" fill="#C0521A">C</text><text x="532.1" y="618.7" fill="#C0521A">A</text><text x="544.6" y="618.7" fill="#C0521A">G</text><text x="557.2" y="618.7" fill="#C0521A">C</text>
<text x="343.8" y="635.5" fill="#C0521A">T</text><text x="356.4" y="635.5" fill="#C0521A">C</text><text x="368.9" y="635.5" fill="#C0521A">C</text><text x="381.5" y="635.5" fill="#C0521A">T</text><text x="394.0" y="635.5" fill="#C0521A">T</text><text x="406.6" y="635.5" fill="#C0521A">C</text><text x="419.1" y="635.5" fill="#C0521A">A</text><text x="431.7" y="635.5" fill="#C0521A">G</text><text x="444.2" y="635.5" fill="#C0521A">C</text><text x="456.8" y="635.5" fill="#C0521A">A</text><text x="469.3" y="635.5" fill="#C0521A">T</text><text x="481.9" y="635.5" fill="#C0521A">A</text>
<text x="431.7" y="652.8" fill="#C0521A">G</text><text x="444.2" y="652.8" fill="#C0521A">C</text><text x="456.8" y="652.8" fill="#C0521A">A</text><text x="469.3" y="652.8" fill="#C0521A">T</text><text x="481.9" y="652.8" fill="#C0521A">A</text><text x="494.4" y="652.8" fill="#C0521A">T</text><text x="507.0" y="652.8" fill="#C0521A">G</text><text x="519.5" y="652.8" fill="#C0521A">C</text><text x="532.1" y="652.8" fill="#C0521A">A</text><text x="544.6" y="652.8" fill="#C0521A">G</text><text x="557.2" y="652.8" fill="#C0521A">C</text>
<text x="406.6" y="670.1" fill="#C0521A">C</text><text x="419.1" y="670.1" fill="#C0521A">A</text><text x="431.7" y="670.1" fill="#C0521A">G</text><text x="444.2" y="670.1" fill="#C0521A">C</text><text x="456.8" y="670.1" fill="#C0521A">A</text><text x="469.3" y="670.1" fill="#C0521A">T</text><text x="481.9" y="670.1" fill="#C0521A">A</text><text x="494.4" y="670.1" fill="#C0521A">T</text><text x="507.0" y="670.1" fill="#C0521A">G</text><text x="519.5" y="670.1" fill="#C0521A">C</text>
<text x="343.8" y="697.0" fill="#222">T</text><text x="356.4" y="697.0" fill="#222">C</text><text x="368.9" y="697.0" fill="#222">C</text><text x="381.5" y="697.0" fill="#222">T</text><text x="394.0" y="697.0" fill="#222">T</text><text x="406.6" y="697.0" fill="#222">C</text><text x="419.1" y="697.0" fill="#222">A</text><text x="431.7" y="697.0" fill="#222">G</text><text x="444.2" y="697.0" fill="#222">C</text><text x="456.8" y="697.0" fill="#222">A</text><text x="469.3" y="697.0" fill="#222">T</text><text x="481.9" y="697.0" fill="#222">T</text><text x="494.4" y="697.0" fill="#222">T</text><text x="507.0" y="697.0" fill="#222">G</text><text x="519.5" y="697.0" fill="#222">C</text><text x="532.1" y="697.0" fill="#222">A</text><text x="544.6" y="697.0" fill="#222">G</text><text x="557.2" y="697.0" fill="#222">C</text>
<text x="334" y="697" fill="#222" font-size="14.3">....</text><text x="568.3" y="697" fill="#222" font-size="14.3">....</text>
</g>
<!-- chart -->
<g stroke="#222" stroke-width="2.5" fill="none" stroke-linecap="butt">
<path d="M715.8,433 V659.2 M714.7,658.2 H1003"/>
</g>
<g stroke="#444" stroke-width="1" fill="none">
<path d="M708,452.3 h7 M708,493.5 h7 M708,537.2 h7 M708,581 h7 M708,622.8 h7 M708,658 h7"/>
</g>
<g font-size="17.4" fill="#333" text-anchor="end" letter-spacing="0.5">
<text x="706.2" y="458.5">100</text>
<text x="706.2" y="499.7">80</text>
<text x="706.2" y="543.4">60</text>
<text x="706.2" y="587.2">40</text>
<text x="706.2" y="629.0">20</text>
<text x="706.2" y="663.8">0</text>
</g>
<text x="861" y="687.2" font-size="21.4" fill="#222" text-anchor="middle">Time</text>
<text transform="translate(673,546) rotate(-90)" font-size="20.8" fill="#222" text-anchor="middle">log CFU/mL</text>
<polyline points="716.5,454.5 785,495.5 849,562 921,601.6 969.7,650.3" fill="none" stroke="#4A7AC8" stroke-width="2.4" stroke-linejoin="round"/>
<polyline points="716.5,452.6 787,467.7 850,530 921,558.6 969.7,587.2" fill="none" stroke="#A8342C" stroke-width="2.4" stroke-linejoin="round"/>
<g fill="#4A7AC8">
<rect x="780.2" y="490.8" width="9.6" height="9.6"/>
<rect x="844.4" y="557.2" width="9.6" height="9.6"/>
<rect x="916.3" y="596.8" width="9.6" height="9.6"/>
</g>
<g fill="#A8342C">
<polygon points="787,461.5 793.3,472.5 780.7,472.5"/>
<polygon points="850,523.5 856.3,534.5 843.7,534.5"/>
<polygon points="921,552.3 927.3,563.3 914.7,563.3"/>
</g>
<!-- legend -->
<line x1="884" y1="450" x2="906.5" y2="450" stroke="#A8342C" stroke-width="2.4"/>
<polygon points="895.3,443.2 901.8,454.3 888.8,454.3" fill="#A8342C"/>
<text x="915.5" y="455.6" font-size="21.2" fill="#A8342C">Treatment A</text>
<line x1="884" y1="487" x2="906.5" y2="487" stroke="#4A7AC8" stroke-width="2.4"/>
<rect x="890.4" y="482.2" width="9.6" height="9.6" fill="#4A7AC8"/>
<text x="916" y="493.4" font-size="21.2" fill="#4A7AC8">Treatment B</text>
</svg>
</body></html>
